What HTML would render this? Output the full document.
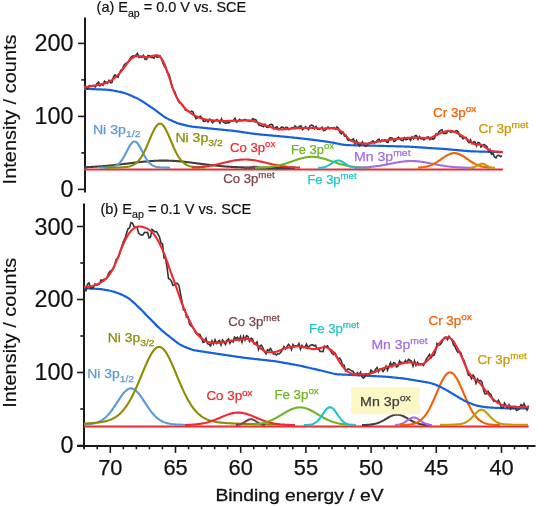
<!DOCTYPE html>
<html><head><meta charset="utf-8"><style>
html,body{margin:0;padding:0;background:#fff;width:550px;height:506px;overflow:hidden}
svg{display:block}
text{font-family:"Liberation Sans",sans-serif}
svg{will-change:transform}
</style></head><body>
<svg width="550" height="506" viewBox="0 0 550 506">
<rect width="550" height="506" fill="#fff"/>
<line x1="85" y1="17.4" x2="85" y2="192.6" stroke="#1a1a1a" stroke-width="2"/>
<line x1="78" y1="189.40" x2="85" y2="189.40" stroke="#1a1a1a" stroke-width="1.6"/>
<line x1="81.3" y1="152.90" x2="85" y2="152.90" stroke="#1a1a1a" stroke-width="1.6"/>
<line x1="78" y1="116.40" x2="85" y2="116.40" stroke="#1a1a1a" stroke-width="1.6"/>
<line x1="81.3" y1="79.90" x2="85" y2="79.90" stroke="#1a1a1a" stroke-width="1.6"/>
<line x1="78" y1="43.40" x2="85" y2="43.40" stroke="#1a1a1a" stroke-width="1.6"/>
<line x1="84" y1="203.5" x2="84" y2="448.6" stroke="#1a1a1a" stroke-width="2"/>
<line x1="77" y1="445.50" x2="84" y2="445.50" stroke="#1a1a1a" stroke-width="1.6"/>
<line x1="80.3" y1="409.00" x2="84" y2="409.00" stroke="#1a1a1a" stroke-width="1.6"/>
<line x1="77" y1="372.50" x2="84" y2="372.50" stroke="#1a1a1a" stroke-width="1.6"/>
<line x1="80.3" y1="336.00" x2="84" y2="336.00" stroke="#1a1a1a" stroke-width="1.6"/>
<line x1="77" y1="299.50" x2="84" y2="299.50" stroke="#1a1a1a" stroke-width="1.6"/>
<line x1="80.3" y1="263.00" x2="84" y2="263.00" stroke="#1a1a1a" stroke-width="1.6"/>
<line x1="77" y1="226.50" x2="84" y2="226.50" stroke="#1a1a1a" stroke-width="1.6"/>
<line x1="77" y1="446" x2="535.5" y2="446" stroke="#1a1a1a" stroke-width="1.9"/>
<line x1="527.58" y1="446" x2="527.58" y2="449.3" stroke="#1a1a1a" stroke-width="1.6"/>
<line x1="514.54" y1="446" x2="514.54" y2="449.3" stroke="#1a1a1a" stroke-width="1.6"/>
<line x1="501.50" y1="446" x2="501.50" y2="452.9" stroke="#1a1a1a" stroke-width="1.6"/>
<line x1="488.46" y1="446" x2="488.46" y2="449.3" stroke="#1a1a1a" stroke-width="1.6"/>
<line x1="475.42" y1="446" x2="475.42" y2="449.3" stroke="#1a1a1a" stroke-width="1.6"/>
<line x1="462.38" y1="446" x2="462.38" y2="449.3" stroke="#1a1a1a" stroke-width="1.6"/>
<line x1="449.34" y1="446" x2="449.34" y2="449.3" stroke="#1a1a1a" stroke-width="1.6"/>
<line x1="436.30" y1="446" x2="436.30" y2="452.9" stroke="#1a1a1a" stroke-width="1.6"/>
<line x1="423.26" y1="446" x2="423.26" y2="449.3" stroke="#1a1a1a" stroke-width="1.6"/>
<line x1="410.22" y1="446" x2="410.22" y2="449.3" stroke="#1a1a1a" stroke-width="1.6"/>
<line x1="397.18" y1="446" x2="397.18" y2="449.3" stroke="#1a1a1a" stroke-width="1.6"/>
<line x1="384.14" y1="446" x2="384.14" y2="449.3" stroke="#1a1a1a" stroke-width="1.6"/>
<line x1="371.10" y1="446" x2="371.10" y2="452.9" stroke="#1a1a1a" stroke-width="1.6"/>
<line x1="358.06" y1="446" x2="358.06" y2="449.3" stroke="#1a1a1a" stroke-width="1.6"/>
<line x1="345.02" y1="446" x2="345.02" y2="449.3" stroke="#1a1a1a" stroke-width="1.6"/>
<line x1="331.98" y1="446" x2="331.98" y2="449.3" stroke="#1a1a1a" stroke-width="1.6"/>
<line x1="318.94" y1="446" x2="318.94" y2="449.3" stroke="#1a1a1a" stroke-width="1.6"/>
<line x1="305.90" y1="446" x2="305.90" y2="452.9" stroke="#1a1a1a" stroke-width="1.6"/>
<line x1="292.86" y1="446" x2="292.86" y2="449.3" stroke="#1a1a1a" stroke-width="1.6"/>
<line x1="279.82" y1="446" x2="279.82" y2="449.3" stroke="#1a1a1a" stroke-width="1.6"/>
<line x1="266.78" y1="446" x2="266.78" y2="449.3" stroke="#1a1a1a" stroke-width="1.6"/>
<line x1="253.74" y1="446" x2="253.74" y2="449.3" stroke="#1a1a1a" stroke-width="1.6"/>
<line x1="240.70" y1="446" x2="240.70" y2="452.9" stroke="#1a1a1a" stroke-width="1.6"/>
<line x1="227.66" y1="446" x2="227.66" y2="449.3" stroke="#1a1a1a" stroke-width="1.6"/>
<line x1="214.62" y1="446" x2="214.62" y2="449.3" stroke="#1a1a1a" stroke-width="1.6"/>
<line x1="201.58" y1="446" x2="201.58" y2="449.3" stroke="#1a1a1a" stroke-width="1.6"/>
<line x1="188.54" y1="446" x2="188.54" y2="449.3" stroke="#1a1a1a" stroke-width="1.6"/>
<line x1="175.50" y1="446" x2="175.50" y2="452.9" stroke="#1a1a1a" stroke-width="1.6"/>
<line x1="162.46" y1="446" x2="162.46" y2="449.3" stroke="#1a1a1a" stroke-width="1.6"/>
<line x1="149.42" y1="446" x2="149.42" y2="449.3" stroke="#1a1a1a" stroke-width="1.6"/>
<line x1="136.38" y1="446" x2="136.38" y2="449.3" stroke="#1a1a1a" stroke-width="1.6"/>
<line x1="123.34" y1="446" x2="123.34" y2="449.3" stroke="#1a1a1a" stroke-width="1.6"/>
<line x1="110.30" y1="446" x2="110.30" y2="452.9" stroke="#1a1a1a" stroke-width="1.6"/>
<line x1="97.26" y1="446" x2="97.26" y2="449.3" stroke="#1a1a1a" stroke-width="1.6"/>
<line x1="84.22" y1="446" x2="84.22" y2="449.3" stroke="#1a1a1a" stroke-width="1.6"/>
<line x1="84" y1="169.5" x2="502.9" y2="169.5" stroke="#ee2b30" stroke-width="2"/>
<path d="M84.00,167.28 L85.00,167.24 L86.00,167.20 L87.00,167.16 L88.00,167.11 L89.00,167.07 L90.00,167.02 L91.00,166.97 L92.00,166.91 L93.00,166.86 L94.00,166.80 L95.00,166.74 L96.00,166.67 L97.00,166.61 L98.00,166.54 L99.00,166.47 L100.00,166.40 L101.00,166.32 L102.00,166.24 L103.00,166.16 L104.00,166.08 L105.00,165.99 L106.00,165.91 L107.00,165.82 L108.00,165.72 L109.00,165.63 L110.00,165.53 L111.00,165.43 L112.00,165.33 L113.00,165.22 L114.00,165.12 L115.00,165.01 L116.00,164.90 L117.00,164.79 L118.00,164.67 L119.00,164.56 L120.00,164.44 L121.00,164.32 L122.00,164.20 L123.00,164.08 L124.00,163.96 L125.00,163.84 L126.00,163.72 L127.00,163.60 L128.00,163.47 L129.00,163.35 L130.00,163.23 L131.00,163.10 L132.00,162.98 L133.00,162.86 L134.00,162.74 L135.00,162.62 L136.00,162.51 L137.00,162.39 L138.00,162.28 L139.00,162.16 L140.00,162.05 L141.00,161.95 L142.00,161.84 L143.00,161.74 L144.00,161.64 L145.00,161.55 L146.00,161.46 L147.00,161.37 L148.00,161.29 L149.00,161.21 L150.00,161.13 L151.00,161.06 L152.00,160.99 L153.00,160.93 L154.00,160.88 L155.00,160.82 L156.00,160.78 L157.00,160.74 L158.00,160.70 L159.00,160.67 L160.00,160.64 L161.00,160.63 L162.00,160.61 L163.00,160.60 L164.00,160.60 L165.00,160.60 L166.00,160.61 L167.00,160.63 L168.00,160.65 L169.00,160.68 L170.00,160.71 L171.00,160.75 L172.00,160.80 L173.00,160.85 L174.00,160.91 L175.00,160.97 L176.00,161.04 L177.00,161.11 L178.00,161.19 L179.00,161.28 L180.00,161.37 L181.00,161.46 L182.00,161.55 L183.00,161.66 L184.00,161.76 L185.00,161.87 L186.00,161.98 L187.00,162.09 L188.00,162.21 L189.00,162.33 L190.00,162.45 L191.00,162.57 L192.00,162.70 L193.00,162.83 L194.00,162.95 L195.00,163.08 L196.00,163.21 L197.00,163.34 L198.00,163.47 L199.00,163.60 L200.00,163.73 L201.00,163.86 L202.00,163.99 L203.00,164.12 L204.00,164.25 L205.00,164.37 L206.00,164.50 L207.00,164.62 L208.00,164.74 L209.00,164.86 L210.00,164.98 L211.00,165.09 L212.00,165.21 L213.00,165.32 L214.00,165.42 L215.00,165.53 L216.00,165.63 L217.00,165.73 L218.00,165.83 L219.00,165.93 L220.00,166.02 L221.00,166.11 L222.00,166.20 L223.00,166.28 L224.00,166.36 L225.00,166.44 L226.00,166.52 L227.00,166.59 L228.00,166.66 L229.00,166.73 L230.00,166.79 L231.00,166.85 L232.00,166.91 L233.00,166.97 L234.00,167.02 L235.00,167.08 L236.00,167.12 L237.00,167.17 L238.00,167.22 L239.00,167.26 L240.00,167.30 L241.00,167.34 L242.00,167.37 L243.00,167.41 L244.00,167.44 L245.00,167.47 L246.00,167.50 L247.00,167.53 L248.00,167.55 L249.00,167.58 L250.00,167.60 L251.00,167.62 L252.00,167.64 L253.00,167.66 L254.00,167.68 L255.00,167.70 L256.00,167.71 L257.00,167.73 L258.00,167.74 L259.00,167.75 L260.00,167.76 L261.00,167.78 L262.00,167.79 L263.00,167.79 L264.00,167.80 L265.00,167.81 L266.00,167.82 L267.00,167.83 L268.00,167.83 L269.00,167.84 L270.00,167.84 L271.00,167.85 L272.00,167.85 L273.00,167.86 L274.00,167.86 L275.00,167.86 L276.00,167.87 L277.00,167.87 L278.00,167.87 L279.00,167.88 L280.00,167.88 L281.00,167.88 L282.00,167.88 L283.00,167.88 L284.00,167.89 L285.00,167.89 L286.00,167.89 L287.00,167.89 L288.00,167.89 L289.00,167.89 L290.00,167.89 L291.00,167.89 L292.00,167.89 L293.00,167.89 L294.00,167.90 L295.00,167.90" fill="none" stroke="#404040" stroke-width="2.1"/>
<path d="M100.00,167.68 L101.00,167.66 L102.00,167.65 L103.00,167.63 L104.00,167.61 L105.00,167.58 L106.00,167.55 L107.00,167.50 L108.00,167.45 L109.00,167.37 L110.00,167.28 L111.00,167.15 L112.00,166.98 L113.00,166.76 L114.00,166.47 L115.00,166.10 L116.00,165.64 L117.00,165.05 L118.00,164.34 L119.00,163.47 L120.00,162.44 L121.00,161.24 L122.00,159.87 L123.00,158.32 L124.00,156.63 L125.00,154.80 L126.00,152.89 L127.00,150.93 L128.00,148.98 L129.00,147.12 L130.00,145.40 L131.00,143.91 L132.00,142.72 L133.00,141.88 L134.00,141.45 L135.00,141.45 L136.00,141.88 L137.00,142.72 L138.00,143.91 L139.00,145.40 L140.00,147.12 L141.00,148.98 L142.00,150.93 L143.00,152.89 L144.00,154.80 L145.00,156.63 L146.00,158.32 L147.00,159.87 L148.00,161.24 L149.00,162.44 L150.00,163.47 L151.00,164.34 L152.00,165.05 L153.00,165.64 L154.00,166.10 L155.00,166.47 L156.00,166.76 L157.00,166.98 L158.00,167.15 L159.00,167.28 L160.00,167.37 L161.00,167.45 L162.00,167.50 L163.00,167.55 L164.00,167.58 L165.00,167.61 L166.00,167.63 L167.00,167.65 L168.00,167.66 L169.00,167.68 L170.00,167.69" fill="none" stroke="#5b9bd5" stroke-width="2.1"/>
<path d="M105.00,167.67 L106.00,167.66 L107.00,167.65 L108.00,167.64 L109.00,167.63 L110.00,167.62 L111.00,167.61 L112.00,167.60 L113.00,167.58 L114.00,167.57 L115.00,167.55 L116.00,167.53 L117.00,167.51 L118.00,167.49 L119.00,167.46 L120.00,167.43 L121.00,167.39 L122.00,167.34 L123.00,167.28 L124.00,167.20 L125.00,167.11 L126.00,167.00 L127.00,166.87 L128.00,166.70 L129.00,166.49 L130.00,166.24 L131.00,165.93 L132.00,165.56 L133.00,165.11 L134.00,164.58 L135.00,163.95 L136.00,163.21 L137.00,162.35 L138.00,161.36 L139.00,160.23 L140.00,158.96 L141.00,157.52 L142.00,155.94 L143.00,154.19 L144.00,152.30 L145.00,150.27 L146.00,148.12 L147.00,145.86 L148.00,143.53 L149.00,141.14 L150.00,138.75 L151.00,136.38 L152.00,134.09 L153.00,131.91 L154.00,129.89 L155.00,128.09 L156.00,126.54 L157.00,125.28 L158.00,124.36 L159.00,123.79 L160.00,123.60 L161.00,123.79 L162.00,124.36 L163.00,125.28 L164.00,126.54 L165.00,128.09 L166.00,129.89 L167.00,131.91 L168.00,134.09 L169.00,136.38 L170.00,138.75 L171.00,141.14 L172.00,143.53 L173.00,145.86 L174.00,148.12 L175.00,150.27 L176.00,152.30 L177.00,154.19 L178.00,155.94 L179.00,157.52 L180.00,158.96 L181.00,160.23 L182.00,161.36 L183.00,162.35 L184.00,163.21 L185.00,163.95 L186.00,164.58 L187.00,165.11 L188.00,165.56 L189.00,165.93 L190.00,166.24 L191.00,166.49 L192.00,166.70 L193.00,166.87 L194.00,167.00 L195.00,167.11 L196.00,167.20 L197.00,167.28 L198.00,167.34 L199.00,167.39 L200.00,167.43 L201.00,167.46 L202.00,167.49 L203.00,167.51 L204.00,167.53 L205.00,167.55" fill="none" stroke="#8c8c00" stroke-width="2.1"/>
<path d="M192.00,167.55 L193.00,167.51 L194.00,167.46 L195.00,167.41 L196.00,167.35 L197.00,167.28 L198.00,167.21 L199.00,167.14 L200.00,167.05 L201.00,166.96 L202.00,166.87 L203.00,166.76 L204.00,166.65 L205.00,166.53 L206.00,166.40 L207.00,166.27 L208.00,166.12 L209.00,165.97 L210.00,165.81 L211.00,165.64 L212.00,165.46 L213.00,165.27 L214.00,165.07 L215.00,164.87 L216.00,164.66 L217.00,164.45 L218.00,164.22 L219.00,164.00 L220.00,163.76 L221.00,163.53 L222.00,163.29 L223.00,163.05 L224.00,162.81 L225.00,162.56 L226.00,162.32 L227.00,162.08 L228.00,161.85 L229.00,161.62 L230.00,161.39 L231.00,161.17 L232.00,160.96 L233.00,160.77 L234.00,160.58 L235.00,160.40 L236.00,160.24 L237.00,160.09 L238.00,159.95 L239.00,159.84 L240.00,159.73 L241.00,159.65 L242.00,159.59 L243.00,159.54 L244.00,159.51 L245.00,159.50 L246.00,159.51 L247.00,159.54 L248.00,159.59 L249.00,159.65 L250.00,159.73 L251.00,159.84 L252.00,159.95 L253.00,160.09 L254.00,160.24 L255.00,160.40 L256.00,160.58 L257.00,160.77 L258.00,160.96 L259.00,161.17 L260.00,161.39 L261.00,161.62 L262.00,161.85 L263.00,162.08 L264.00,162.32 L265.00,162.56 L266.00,162.81 L267.00,163.05 L268.00,163.29 L269.00,163.53 L270.00,163.76 L271.00,164.00 L272.00,164.22 L273.00,164.45 L274.00,164.66 L275.00,164.87 L276.00,165.07 L277.00,165.27 L278.00,165.46 L279.00,165.64 L280.00,165.81 L281.00,165.97 L282.00,166.12 L283.00,166.27 L284.00,166.40 L285.00,166.53 L286.00,166.65 L287.00,166.76 L288.00,166.87 L289.00,166.96 L290.00,167.05 L291.00,167.14 L292.00,167.21 L293.00,167.28 L294.00,167.35 L295.00,167.41 L296.00,167.46 L297.00,167.51 L298.00,167.55 L299.00,167.59 L300.00,167.63" fill="none" stroke="#ee2b30" stroke-width="2.1"/>
<path d="M244.00,167.89 L245.00,167.87 L246.00,167.84 L247.00,167.79 L248.00,167.70 L249.00,167.58 L250.00,167.42 L251.00,167.23 L252.00,167.05 L253.00,166.90 L254.00,166.81 L255.00,166.81 L256.00,166.90 L257.00,167.05 L258.00,167.23 L259.00,167.42 L260.00,167.58 L261.00,167.70 L262.00,167.79 L263.00,167.84 L264.00,167.87 L265.00,167.89" fill="none" stroke="#7a4545" stroke-width="2.1"/>
<path d="M255.00,167.76 L256.00,167.74 L257.00,167.71 L258.00,167.68 L259.00,167.64 L260.00,167.61 L261.00,167.56 L262.00,167.51 L263.00,167.46 L264.00,167.40 L265.00,167.33 L266.00,167.25 L267.00,167.17 L268.00,167.07 L269.00,166.97 L270.00,166.86 L271.00,166.74 L272.00,166.60 L273.00,166.46 L274.00,166.30 L275.00,166.13 L276.00,165.95 L277.00,165.76 L278.00,165.55 L279.00,165.33 L280.00,165.09 L281.00,164.84 L282.00,164.58 L283.00,164.31 L284.00,164.02 L285.00,163.73 L286.00,163.42 L287.00,163.10 L288.00,162.78 L289.00,162.44 L290.00,162.10 L291.00,161.76 L292.00,161.41 L293.00,161.06 L294.00,160.71 L295.00,160.37 L296.00,160.03 L297.00,159.69 L298.00,159.37 L299.00,159.05 L300.00,158.75 L301.00,158.46 L302.00,158.19 L303.00,157.94 L304.00,157.71 L305.00,157.51 L306.00,157.32 L307.00,157.17 L308.00,157.04 L309.00,156.93 L310.00,156.86 L311.00,156.81 L312.00,156.80 L313.00,156.81 L314.00,156.86 L315.00,156.93 L316.00,157.04 L317.00,157.17 L318.00,157.32 L319.00,157.51 L320.00,157.71 L321.00,157.94 L322.00,158.19 L323.00,158.46 L324.00,158.75 L325.00,159.05 L326.00,159.37 L327.00,159.69 L328.00,160.03 L329.00,160.37 L330.00,160.71 L331.00,161.06 L332.00,161.41 L333.00,161.76 L334.00,162.10 L335.00,162.44 L336.00,162.78 L337.00,163.10 L338.00,163.42 L339.00,163.73 L340.00,164.02 L341.00,164.31 L342.00,164.58 L343.00,164.84 L344.00,165.09 L345.00,165.33 L346.00,165.55 L347.00,165.76 L348.00,165.95 L349.00,166.13 L350.00,166.30 L351.00,166.46 L352.00,166.60 L353.00,166.74 L354.00,166.86 L355.00,166.97 L356.00,167.07 L357.00,167.17 L358.00,167.25 L359.00,167.33 L360.00,167.40 L361.00,167.46 L362.00,167.51 L363.00,167.56 L364.00,167.61 L365.00,167.64 L366.00,167.68 L367.00,167.71 L368.00,167.74 L369.00,167.76 L370.00,167.78" fill="none" stroke="#6db524" stroke-width="2.1"/>
<path d="M318.00,167.83 L319.00,167.79 L320.00,167.73 L321.00,167.65 L322.00,167.54 L323.00,167.38 L324.00,167.17 L325.00,166.90 L326.00,166.56 L327.00,166.15 L328.00,165.66 L329.00,165.10 L330.00,164.48 L331.00,163.82 L332.00,163.14 L333.00,162.47 L334.00,161.86 L335.00,161.32 L336.00,160.90 L337.00,160.62 L338.00,160.50 L339.00,160.55 L340.00,160.77 L341.00,161.14 L342.00,161.63 L343.00,162.22 L344.00,162.87 L345.00,163.55 L346.00,164.22 L347.00,164.86 L348.00,165.44 L349.00,165.96 L350.00,166.40 L351.00,166.77 L352.00,167.07 L353.00,167.30 L354.00,167.48 L355.00,167.61 L356.00,167.71 L357.00,167.77 L358.00,167.82" fill="none" stroke="#1ec4cc" stroke-width="2.1"/>
<path d="M355.00,167.73 L356.00,167.70 L357.00,167.67 L358.00,167.64 L359.00,167.61 L360.00,167.57 L361.00,167.53 L362.00,167.49 L363.00,167.44 L364.00,167.39 L365.00,167.33 L366.00,167.26 L367.00,167.19 L368.00,167.12 L369.00,167.04 L370.00,166.95 L371.00,166.85 L372.00,166.75 L373.00,166.64 L374.00,166.53 L375.00,166.41 L376.00,166.28 L377.00,166.14 L378.00,166.00 L379.00,165.85 L380.00,165.69 L381.00,165.53 L382.00,165.36 L383.00,165.18 L384.00,165.00 L385.00,164.82 L386.00,164.63 L387.00,164.43 L388.00,164.24 L389.00,164.04 L390.00,163.84 L391.00,163.63 L392.00,163.43 L393.00,163.23 L394.00,163.04 L395.00,162.84 L396.00,162.65 L397.00,162.47 L398.00,162.29 L399.00,162.12 L400.00,161.96 L401.00,161.81 L402.00,161.67 L403.00,161.54 L404.00,161.42 L405.00,161.32 L406.00,161.23 L407.00,161.15 L408.00,161.09 L409.00,161.05 L410.00,161.02 L411.00,161.00 L412.00,161.00 L413.00,161.02 L414.00,161.05 L415.00,161.10 L416.00,161.17 L417.00,161.25 L418.00,161.34 L419.00,161.45 L420.00,161.57 L421.00,161.70 L422.00,161.84 L423.00,161.99 L424.00,162.16 L425.00,162.33 L426.00,162.51 L427.00,162.69 L428.00,162.88 L429.00,163.08 L430.00,163.27 L431.00,163.47 L432.00,163.67 L433.00,163.88 L434.00,164.08 L435.00,164.28 L436.00,164.47 L437.00,164.66 L438.00,164.85 L439.00,165.04 L440.00,165.22 L441.00,165.39 L442.00,165.56 L443.00,165.72 L444.00,165.88 L445.00,166.03 L446.00,166.17 L447.00,166.31 L448.00,166.43 L449.00,166.55 L450.00,166.67 L451.00,166.77 L452.00,166.87 L453.00,166.97 L454.00,167.05 L455.00,167.13 L456.00,167.21 L457.00,167.28 L458.00,167.34 L459.00,167.40 L460.00,167.45 L461.00,167.50 L462.00,167.54 L463.00,167.58 L464.00,167.62 L465.00,167.65 L466.00,167.68 L467.00,167.71 L468.00,167.73 L469.00,167.75 L470.00,167.77 L471.00,167.79 L472.00,167.80 L473.00,167.81 L474.00,167.83 L475.00,167.84" fill="none" stroke="#a56de0" stroke-width="2.1"/>
<path d="M418.00,167.64 L419.00,167.58 L420.00,167.50 L421.00,167.41 L422.00,167.30 L423.00,167.17 L424.00,167.02 L425.00,166.84 L426.00,166.64 L427.00,166.40 L428.00,166.14 L429.00,165.83 L430.00,165.49 L431.00,165.12 L432.00,164.70 L433.00,164.24 L434.00,163.74 L435.00,163.21 L436.00,162.63 L437.00,162.03 L438.00,161.39 L439.00,160.72 L440.00,160.04 L441.00,159.34 L442.00,158.64 L443.00,157.95 L444.00,157.26 L445.00,156.60 L446.00,155.97 L447.00,155.38 L448.00,154.84 L449.00,154.36 L450.00,153.95 L451.00,153.61 L452.00,153.36 L453.00,153.19 L454.00,153.11 L455.00,153.12 L456.00,153.22 L457.00,153.40 L458.00,153.67 L459.00,154.03 L460.00,154.45 L461.00,154.94 L462.00,155.49 L463.00,156.09 L464.00,156.73 L465.00,157.40 L466.00,158.08 L467.00,158.78 L468.00,159.48 L469.00,160.18 L470.00,160.86 L471.00,161.52 L472.00,162.15 L473.00,162.75 L474.00,163.32 L475.00,163.85 L476.00,164.34 L477.00,164.79 L478.00,165.20 L479.00,165.57 L480.00,165.90 L481.00,166.19 L482.00,166.45 L483.00,166.68 L484.00,166.88 L485.00,167.05 L486.00,167.20 L487.00,167.32 L488.00,167.43 L489.00,167.52 L490.00,167.59" fill="none" stroke="#f26000" stroke-width="2.1"/>
<path d="M470.00,167.82 L471.00,167.76 L472.00,167.65 L473.00,167.47 L474.00,167.22 L475.00,166.87 L476.00,166.41 L477.00,165.88 L478.00,165.29 L479.00,164.72 L480.00,164.22 L481.00,163.86 L482.00,163.70 L483.00,163.77 L484.00,164.05 L485.00,164.50 L486.00,165.06 L487.00,165.65 L488.00,166.21 L489.00,166.70 L490.00,167.09 L491.00,167.38 L492.00,167.59 L493.00,167.72 L494.00,167.80 L495.00,167.85" fill="none" stroke="#c99a00" stroke-width="2.1"/>
<line x1="84" y1="426.5" x2="528.7" y2="426.5" stroke="#ee2b30" stroke-width="2"/>
<path d="M84.00,424.55 L85.00,424.50 L86.00,424.44 L87.00,424.37 L88.00,424.28 L89.00,424.18 L90.00,424.07 L91.00,423.93 L92.00,423.77 L93.00,423.58 L94.00,423.37 L95.00,423.12 L96.00,422.83 L97.00,422.51 L98.00,422.13 L99.00,421.71 L100.00,421.23 L101.00,420.68 L102.00,420.08 L103.00,419.41 L104.00,418.66 L105.00,417.85 L106.00,416.95 L107.00,415.98 L108.00,414.93 L109.00,413.81 L110.00,412.61 L111.00,411.34 L112.00,410.00 L113.00,408.61 L114.00,407.16 L115.00,405.68 L116.00,404.16 L117.00,402.63 L118.00,401.09 L119.00,399.57 L120.00,398.07 L121.00,396.62 L122.00,395.23 L123.00,393.93 L124.00,392.73 L125.00,391.64 L126.00,390.69 L127.00,389.88 L128.00,389.24 L129.00,388.78 L130.00,388.49 L131.00,388.40 L132.00,388.49 L133.00,388.78 L134.00,389.24 L135.00,389.88 L136.00,390.69 L137.00,391.64 L138.00,392.73 L139.00,393.93 L140.00,395.23 L141.00,396.62 L142.00,398.07 L143.00,399.57 L144.00,401.09 L145.00,402.63 L146.00,404.16 L147.00,405.68 L148.00,407.16 L149.00,408.61 L150.00,410.00 L151.00,411.34 L152.00,412.61 L153.00,413.81 L154.00,414.93 L155.00,415.98 L156.00,416.95 L157.00,417.85 L158.00,418.66 L159.00,419.41 L160.00,420.08 L161.00,420.68 L162.00,421.23 L163.00,421.71 L164.00,422.13 L165.00,422.51 L166.00,422.83 L167.00,423.12 L168.00,423.37 L169.00,423.58 L170.00,423.77 L171.00,423.93 L172.00,424.07 L173.00,424.18 L174.00,424.28 L175.00,424.37 L176.00,424.44 L177.00,424.50 L178.00,424.55 L179.00,424.59 L180.00,424.63 L181.00,424.66 L182.00,424.69 L183.00,424.72 L184.00,424.74 L185.00,424.76" fill="none" stroke="#5b9bd5" stroke-width="2.1"/>
<path d="M84.00,423.52 L85.00,423.47 L86.00,423.43 L87.00,423.38 L88.00,423.33 L89.00,423.27 L90.00,423.21 L91.00,423.15 L92.00,423.08 L93.00,423.01 L94.00,422.93 L95.00,422.84 L96.00,422.75 L97.00,422.65 L98.00,422.53 L99.00,422.41 L100.00,422.28 L101.00,422.13 L102.00,421.96 L103.00,421.78 L104.00,421.58 L105.00,421.36 L106.00,421.12 L107.00,420.85 L108.00,420.55 L109.00,420.22 L110.00,419.86 L111.00,419.46 L112.00,419.02 L113.00,418.54 L114.00,418.00 L115.00,417.42 L116.00,416.78 L117.00,416.09 L118.00,415.33 L119.00,414.50 L120.00,413.61 L121.00,412.64 L122.00,411.60 L123.00,410.48 L124.00,409.27 L125.00,407.98 L126.00,406.61 L127.00,405.15 L128.00,403.60 L129.00,401.96 L130.00,400.23 L131.00,398.42 L132.00,396.52 L133.00,394.55 L134.00,392.49 L135.00,390.37 L136.00,388.17 L137.00,385.92 L138.00,383.62 L139.00,381.27 L140.00,378.89 L141.00,376.49 L142.00,374.08 L143.00,371.67 L144.00,369.28 L145.00,366.92 L146.00,364.61 L147.00,362.37 L148.00,360.21 L149.00,358.15 L150.00,356.21 L151.00,354.41 L152.00,352.76 L153.00,351.29 L154.00,350.00 L155.00,348.93 L156.00,348.07 L157.00,347.44 L158.00,347.05 L159.00,346.90 L160.00,347.00 L161.00,347.34 L162.00,347.92 L163.00,348.74 L164.00,349.77 L165.00,351.02 L166.00,352.45 L167.00,354.07 L168.00,355.84 L169.00,357.75 L170.00,359.79 L171.00,361.93 L172.00,364.16 L173.00,366.46 L174.00,368.80 L175.00,371.19 L176.00,373.59 L177.00,376.01 L178.00,378.41 L179.00,380.79 L180.00,383.15 L181.00,385.46 L182.00,387.73 L183.00,389.93 L184.00,392.07 L185.00,394.14 L186.00,396.14 L187.00,398.05 L188.00,399.88 L189.00,401.62 L190.00,403.28 L191.00,404.84 L192.00,406.32 L193.00,407.72 L194.00,409.02 L195.00,410.24 L196.00,411.38 L197.00,412.44 L198.00,413.42 L199.00,414.33 L200.00,415.17 L201.00,415.94 L202.00,416.65 L203.00,417.30 L204.00,417.89 L205.00,418.43 L206.00,418.93 L207.00,419.38 L208.00,419.78 L209.00,420.15 L210.00,420.49 L211.00,420.79 L212.00,421.07 L213.00,421.32 L214.00,421.54 L215.00,421.74 L216.00,421.93 L217.00,422.10 L218.00,422.25 L219.00,422.38 L220.00,422.51 L221.00,422.62 L222.00,422.73 L223.00,422.82 L224.00,422.91 L225.00,422.99 L226.00,423.07 L227.00,423.14 L228.00,423.20 L229.00,423.26 L230.00,423.32 L231.00,423.37 L232.00,423.42 L233.00,423.46 L234.00,423.51 L235.00,423.55 L236.00,423.59 L237.00,423.63 L238.00,423.66 L239.00,423.70 L240.00,423.73 L241.00,423.76 L242.00,423.80 L243.00,423.83 L244.00,423.85 L245.00,423.88 L246.00,423.91 L247.00,423.93 L248.00,423.96 L249.00,423.98 L250.00,424.01 L251.00,424.03 L252.00,424.05 L253.00,424.07 L254.00,424.09 L255.00,424.11 L256.00,424.13 L257.00,424.15 L258.00,424.17 L259.00,424.19 L260.00,424.20 L261.00,424.22 L262.00,424.24 L263.00,424.25 L264.00,424.27 L265.00,424.28 L266.00,424.30 L267.00,424.31 L268.00,424.32 L269.00,424.34 L270.00,424.35 L271.00,424.36 L272.00,424.38 L273.00,424.39 L274.00,424.40 L275.00,424.41 L276.00,424.42 L277.00,424.43 L278.00,424.45 L279.00,424.46 L280.00,424.47" fill="none" stroke="#8c8c00" stroke-width="2.1"/>
<path d="M185.00,424.96 L186.00,424.94 L187.00,424.91 L188.00,424.88 L189.00,424.84 L190.00,424.79 L191.00,424.74 L192.00,424.69 L193.00,424.62 L194.00,424.55 L195.00,424.46 L196.00,424.37 L197.00,424.27 L198.00,424.15 L199.00,424.02 L200.00,423.88 L201.00,423.73 L202.00,423.56 L203.00,423.37 L204.00,423.17 L205.00,422.95 L206.00,422.71 L207.00,422.46 L208.00,422.18 L209.00,421.89 L210.00,421.59 L211.00,421.26 L212.00,420.92 L213.00,420.56 L214.00,420.19 L215.00,419.81 L216.00,419.41 L217.00,419.00 L218.00,418.58 L219.00,418.16 L220.00,417.73 L221.00,417.30 L222.00,416.88 L223.00,416.45 L224.00,416.04 L225.00,415.63 L226.00,415.24 L227.00,414.87 L228.00,414.51 L229.00,414.18 L230.00,413.87 L231.00,413.59 L232.00,413.34 L233.00,413.13 L234.00,412.95 L235.00,412.80 L236.00,412.70 L237.00,412.63 L238.00,412.60 L239.00,412.61 L240.00,412.66 L241.00,412.76 L242.00,412.88 L243.00,413.05 L244.00,413.25 L245.00,413.49 L246.00,413.76 L247.00,414.05 L248.00,414.38 L249.00,414.72 L250.00,415.09 L251.00,415.48 L252.00,415.88 L253.00,416.29 L254.00,416.71 L255.00,417.13 L256.00,417.56 L257.00,417.99 L258.00,418.41 L259.00,418.83 L260.00,419.25 L261.00,419.65 L262.00,420.04 L263.00,420.42 L264.00,420.78 L265.00,421.13 L266.00,421.46 L267.00,421.77 L268.00,422.07 L269.00,422.35 L270.00,422.61 L271.00,422.85 L272.00,423.08 L273.00,423.29 L274.00,423.48 L275.00,423.66 L276.00,423.82 L277.00,423.97 L278.00,424.10 L279.00,424.22 L280.00,424.33 L281.00,424.43 L282.00,424.51 L283.00,424.59 L284.00,424.66 L285.00,424.72 L286.00,424.77 L287.00,424.82 L288.00,424.86 L289.00,424.90 L290.00,424.93 L291.00,424.95 L292.00,424.98 L293.00,425.00 L294.00,425.01 L295.00,425.03" fill="none" stroke="#ee2b30" stroke-width="2.1"/>
<path d="M236.00,424.97 L237.00,424.89 L238.00,424.76 L239.00,424.58 L240.00,424.33 L241.00,424.00 L242.00,423.58 L243.00,423.08 L244.00,422.49 L245.00,421.85 L246.00,421.19 L247.00,420.55 L248.00,419.99 L249.00,419.55 L250.00,419.28 L251.00,419.20 L252.00,419.32 L253.00,419.63 L254.00,420.10 L255.00,420.68 L256.00,421.32 L257.00,421.98 L258.00,422.61 L259.00,423.18 L260.00,423.67 L261.00,424.07 L262.00,424.39 L263.00,424.62 L264.00,424.79 L265.00,424.90" fill="none" stroke="#7a4545" stroke-width="2.1"/>
<path d="M255.00,424.38 L256.00,424.27 L257.00,424.14 L258.00,424.01 L259.00,423.85 L260.00,423.68 L261.00,423.49 L262.00,423.29 L263.00,423.06 L264.00,422.81 L265.00,422.54 L266.00,422.24 L267.00,421.93 L268.00,421.58 L269.00,421.22 L270.00,420.82 L271.00,420.41 L272.00,419.96 L273.00,419.50 L274.00,419.01 L275.00,418.50 L276.00,417.97 L277.00,417.42 L278.00,416.85 L279.00,416.27 L280.00,415.68 L281.00,415.09 L282.00,414.49 L283.00,413.88 L284.00,413.28 L285.00,412.69 L286.00,412.11 L287.00,411.54 L288.00,411.00 L289.00,410.48 L290.00,409.98 L291.00,409.52 L292.00,409.10 L293.00,408.72 L294.00,408.38 L295.00,408.08 L296.00,407.84 L297.00,407.65 L298.00,407.51 L299.00,407.43 L300.00,407.40 L301.00,407.43 L302.00,407.51 L303.00,407.65 L304.00,407.84 L305.00,408.08 L306.00,408.38 L307.00,408.72 L308.00,409.10 L309.00,409.52 L310.00,409.98 L311.00,410.48 L312.00,411.00 L313.00,411.54 L314.00,412.11 L315.00,412.69 L316.00,413.28 L317.00,413.88 L318.00,414.49 L319.00,415.09 L320.00,415.68 L321.00,416.27 L322.00,416.85 L323.00,417.42 L324.00,417.97 L325.00,418.50 L326.00,419.01 L327.00,419.50 L328.00,419.96 L329.00,420.41 L330.00,420.82 L331.00,421.22 L332.00,421.58 L333.00,421.93 L334.00,422.24 L335.00,422.54 L336.00,422.81 L337.00,423.06 L338.00,423.29 L339.00,423.49 L340.00,423.68 L341.00,423.85 L342.00,424.01 L343.00,424.14 L344.00,424.27 L345.00,424.38 L346.00,424.47 L347.00,424.56 L348.00,424.63 L349.00,424.70 L350.00,424.76 L351.00,424.81 L352.00,424.85 L353.00,424.89 L354.00,424.92 L355.00,424.95" fill="none" stroke="#6db524" stroke-width="2.1"/>
<path d="M304.00,425.07 L305.00,425.05 L306.00,425.02 L307.00,424.97 L308.00,424.91 L309.00,424.81 L310.00,424.68 L311.00,424.49 L312.00,424.24 L313.00,423.91 L314.00,423.48 L315.00,422.93 L316.00,422.25 L317.00,421.43 L318.00,420.46 L319.00,419.35 L320.00,418.10 L321.00,416.73 L322.00,415.28 L323.00,413.80 L324.00,412.33 L325.00,410.94 L326.00,409.70 L327.00,408.65 L328.00,407.86 L329.00,407.37 L330.00,407.20 L331.00,407.37 L332.00,407.86 L333.00,408.65 L334.00,409.70 L335.00,410.94 L336.00,412.33 L337.00,413.80 L338.00,415.28 L339.00,416.73 L340.00,418.10 L341.00,419.35 L342.00,420.46 L343.00,421.43 L344.00,422.25 L345.00,422.93 L346.00,423.48 L347.00,423.91 L348.00,424.24 L349.00,424.49 L350.00,424.68 L351.00,424.81 L352.00,424.91 L353.00,424.97 L354.00,425.02 L355.00,425.05 L356.00,425.07" fill="none" stroke="#1ec4cc" stroke-width="2.1"/>
<path d="M362.00,425.05 L363.00,425.03 L364.00,425.00 L365.00,424.97 L366.00,424.93 L367.00,424.88 L368.00,424.82 L369.00,424.74 L370.00,424.65 L371.00,424.53 L372.00,424.39 L373.00,424.23 L374.00,424.03 L375.00,423.81 L376.00,423.54 L377.00,423.24 L378.00,422.90 L379.00,422.52 L380.00,422.10 L381.00,421.64 L382.00,421.15 L383.00,420.62 L384.00,420.07 L385.00,419.49 L386.00,418.91 L387.00,418.32 L388.00,417.74 L389.00,417.17 L390.00,416.64 L391.00,416.15 L392.00,415.71 L393.00,415.33 L394.00,415.02 L395.00,414.80 L396.00,414.65 L397.00,414.60 L398.00,414.64 L399.00,414.76 L400.00,414.97 L401.00,415.26 L402.00,415.63 L403.00,416.06 L404.00,416.54 L405.00,417.06 L406.00,417.62 L407.00,418.20 L408.00,418.79 L409.00,419.38 L410.00,419.95 L411.00,420.51 L412.00,421.05 L413.00,421.55 L414.00,422.01 L415.00,422.44 L416.00,422.83 L417.00,423.18 L418.00,423.49 L419.00,423.76 L420.00,423.99 L421.00,424.19 L422.00,424.36 L423.00,424.51 L424.00,424.63 L425.00,424.73 L426.00,424.81 L427.00,424.87 L428.00,424.92 L429.00,424.97 L430.00,425.00 L431.00,425.02 L432.00,425.04" fill="none" stroke="#404040" stroke-width="2.1"/>
<path d="M395.00,424.98 L396.00,424.92 L397.00,424.83 L398.00,424.70 L399.00,424.53 L400.00,424.30 L401.00,424.01 L402.00,423.64 L403.00,423.19 L404.00,422.66 L405.00,422.06 L406.00,421.40 L407.00,420.70 L408.00,420.00 L409.00,419.31 L410.00,418.69 L411.00,418.17 L412.00,417.79 L413.00,417.56 L414.00,417.50 L415.00,417.63 L416.00,417.92 L417.00,418.37 L418.00,418.93 L419.00,419.58 L420.00,420.28 L421.00,420.98 L422.00,421.67 L423.00,422.31 L424.00,422.88 L425.00,423.38 L426.00,423.79 L427.00,424.13 L428.00,424.40 L429.00,424.61 L430.00,424.76 L431.00,424.87 L432.00,424.95" fill="none" stroke="#a56de0" stroke-width="2.1"/>
<path d="M400.00,425.05 L401.00,425.03 L402.00,425.01 L403.00,424.98 L404.00,424.95 L405.00,424.90 L406.00,424.85 L407.00,424.78 L408.00,424.69 L409.00,424.59 L410.00,424.46 L411.00,424.31 L412.00,424.12 L413.00,423.89 L414.00,423.62 L415.00,423.31 L416.00,422.93 L417.00,422.49 L418.00,421.98 L419.00,421.39 L420.00,420.71 L421.00,419.94 L422.00,419.06 L423.00,418.07 L424.00,416.97 L425.00,415.74 L426.00,414.39 L427.00,412.91 L428.00,411.30 L429.00,409.56 L430.00,407.70 L431.00,405.73 L432.00,403.65 L433.00,401.47 L434.00,399.22 L435.00,396.91 L436.00,394.56 L437.00,392.19 L438.00,389.83 L439.00,387.52 L440.00,385.26 L441.00,383.11 L442.00,381.08 L443.00,379.21 L444.00,377.51 L445.00,376.03 L446.00,374.78 L447.00,373.77 L448.00,373.03 L449.00,372.57 L450.00,372.40 L451.00,372.52 L452.00,372.92 L453.00,373.60 L454.00,374.55 L455.00,375.76 L456.00,377.20 L457.00,378.85 L458.00,380.69 L459.00,382.69 L460.00,384.83 L461.00,387.06 L462.00,389.37 L463.00,391.72 L464.00,394.08 L465.00,396.44 L466.00,398.76 L467.00,401.03 L468.00,403.22 L469.00,405.32 L470.00,407.32 L471.00,409.20 L472.00,410.96 L473.00,412.60 L474.00,414.10 L475.00,415.48 L476.00,416.73 L477.00,417.86 L478.00,418.87 L479.00,419.77 L480.00,420.56 L481.00,421.26 L482.00,421.87 L483.00,422.40 L484.00,422.85 L485.00,423.24 L486.00,423.56 L487.00,423.84 L488.00,424.08 L489.00,424.27 L490.00,424.43 L491.00,424.56 L492.00,424.67 L493.00,424.76 L494.00,424.83 L495.00,424.89 L496.00,424.94 L497.00,424.97 L498.00,425.00 L499.00,425.03 L500.00,425.04" fill="none" stroke="#f26000" stroke-width="2.1"/>
<path d="M440.00,424.87 L441.00,424.86 L442.00,424.85 L443.00,424.84 L444.00,424.83 L445.00,424.81 L446.00,424.80 L447.00,424.78 L448.00,424.76 L449.00,424.74 L450.00,424.72 L451.00,424.69 L452.00,424.66 L453.00,424.63 L454.00,424.59 L455.00,424.54 L456.00,424.48 L457.00,424.41 L458.00,424.32 L459.00,424.20 L460.00,424.06 L461.00,423.89 L462.00,423.67 L463.00,423.41 L464.00,423.08 L465.00,422.68 L466.00,422.20 L467.00,421.64 L468.00,420.99 L469.00,420.25 L470.00,419.41 L471.00,418.48 L472.00,417.48 L473.00,416.42 L474.00,415.33 L475.00,414.22 L476.00,413.14 L477.00,412.14 L478.00,411.24 L479.00,410.52 L480.00,410.00 L481.00,409.73 L482.00,409.73 L483.00,410.00 L484.00,410.52 L485.00,411.24 L486.00,412.14 L487.00,413.14 L488.00,414.22 L489.00,415.33 L490.00,416.42 L491.00,417.48 L492.00,418.48 L493.00,419.41 L494.00,420.25 L495.00,420.99 L496.00,421.64 L497.00,422.20 L498.00,422.68 L499.00,423.08 L500.00,423.41 L501.00,423.67 L502.00,423.89 L503.00,424.06 L504.00,424.20 L505.00,424.32 L506.00,424.41 L507.00,424.48 L508.00,424.54 L509.00,424.59 L510.00,424.63 L511.00,424.66 L512.00,424.69 L513.00,424.72 L514.00,424.74 L515.00,424.76 L516.00,424.78 L517.00,424.80 L518.00,424.81 L519.00,424.83 L520.00,424.84 L521.00,424.85 L522.00,424.86 L523.00,424.87 L524.00,424.88 L525.00,424.89 L526.00,424.90 L527.00,424.91 L528.00,424.92" fill="none" stroke="#c99a00" stroke-width="2.1"/>
<path d="M84.00,88.80 L85.00,88.84 L86.00,88.87 L87.00,88.91 L88.00,88.95 L89.00,88.99 L90.00,89.02 L91.00,89.06 L92.00,89.10 L93.00,89.14 L94.00,89.17 L95.00,89.21 L96.00,89.25 L97.00,89.28 L98.00,89.32 L99.00,89.36 L100.00,89.40 L101.00,89.44 L102.00,89.49 L103.00,89.53 L104.00,89.58 L105.00,89.64 L106.00,89.70 L107.00,89.77 L108.00,89.85 L109.00,89.95 L110.00,90.07 L111.00,90.21 L112.00,90.36 L113.00,90.53 L114.00,90.72 L115.00,90.91 L116.00,91.10 L117.00,91.30 L118.00,91.50 L119.00,91.71 L120.00,91.91 L121.00,92.13 L122.00,92.36 L123.00,92.61 L124.00,92.89 L125.00,93.19 L126.00,93.53 L127.00,93.91 L128.00,94.30 L129.00,94.72 L130.00,95.16 L131.00,95.60 L132.00,96.04 L133.00,96.49 L134.00,96.94 L135.00,97.40 L136.00,97.87 L137.00,98.35 L138.00,98.86 L139.00,99.38 L140.00,99.94 L141.00,100.53 L142.00,101.13 L143.00,101.76 L144.00,102.41 L145.00,103.06 L146.00,103.72 L147.00,104.38 L148.00,105.05 L149.00,105.72 L150.00,106.39 L151.00,107.07 L152.00,107.75 L153.00,108.45 L154.00,109.17 L155.00,109.89 L156.00,110.64 L157.00,111.39 L158.00,112.15 L159.00,112.92 L160.00,113.69 L161.00,114.44 L162.00,115.18 L163.00,115.90 L164.00,116.58 L165.00,117.22 L166.00,117.81 L167.00,118.37 L168.00,118.89 L169.00,119.39 L170.00,119.86 L171.00,120.33 L172.00,120.79 L173.00,121.24 L174.00,121.68 L175.00,122.10 L176.00,122.51 L177.00,122.89 L178.00,123.25 L179.00,123.58 L180.00,123.88 L181.00,124.16 L182.00,124.43 L183.00,124.68 L184.00,124.93 L185.00,125.17 L186.00,125.41 L187.00,125.64 L188.00,125.86 L189.00,126.07 L190.00,126.26 L191.00,126.43 L192.00,126.58 L193.00,126.72 L194.00,126.84 L195.00,126.96 L196.00,127.07 L197.00,127.17 L198.00,127.27 L199.00,127.38 L200.00,127.48 L201.00,127.58 L202.00,127.68 L203.00,127.78 L204.00,127.89 L205.00,127.99 L206.00,128.09 L207.00,128.19 L208.00,128.29 L209.00,128.40 L210.00,128.50 L211.00,128.60 L212.00,128.70 L213.00,128.80 L214.00,128.91 L215.00,129.01 L216.00,129.11 L217.00,129.21 L218.00,129.31 L219.00,129.41 L220.00,129.51 L221.00,129.61 L222.00,129.71 L223.00,129.81 L224.00,129.91 L225.00,130.01 L226.00,130.10 L227.00,130.20 L228.00,130.30 L229.00,130.40 L230.00,130.51 L231.00,130.61 L232.00,130.71 L233.00,130.82 L234.00,130.94 L235.00,131.06 L236.00,131.19 L237.00,131.32 L238.00,131.46 L239.00,131.61 L240.00,131.75 L241.00,131.90 L242.00,132.05 L243.00,132.20 L244.00,132.35 L245.00,132.50 L246.00,132.65 L247.00,132.80 L248.00,132.95 L249.00,133.10 L250.00,133.25 L251.00,133.39 L252.00,133.54 L253.00,133.67 L254.00,133.81 L255.00,133.93 L256.00,134.05 L257.00,134.16 L258.00,134.26 L259.00,134.36 L260.00,134.46 L261.00,134.55 L262.00,134.64 L263.00,134.74 L264.00,134.83 L265.00,134.92 L266.00,135.01 L267.00,135.10 L268.00,135.20 L269.00,135.29 L270.00,135.38 L271.00,135.47 L272.00,135.56 L273.00,135.66 L274.00,135.75 L275.00,135.84 L276.00,135.93 L277.00,136.02 L278.00,136.12 L279.00,136.21 L280.00,136.30 L281.00,136.40 L282.00,136.49 L283.00,136.58 L284.00,136.68 L285.00,136.77 L286.00,136.87 L287.00,136.96 L288.00,137.05 L289.00,137.15 L290.00,137.24 L291.00,137.34 L292.00,137.44 L293.00,137.54 L294.00,137.64 L295.00,137.75 L296.00,137.85 L297.00,137.96 L298.00,138.07 L299.00,138.18 L300.00,138.30 L301.00,138.41 L302.00,138.52 L303.00,138.63 L304.00,138.75 L305.00,138.86 L306.00,138.97 L307.00,139.08 L308.00,139.20 L309.00,139.31 L310.00,139.43 L311.00,139.55 L312.00,139.67 L313.00,139.79 L314.00,139.92 L315.00,140.05 L316.00,140.19 L317.00,140.32 L318.00,140.46 L319.00,140.60 L320.00,140.74 L321.00,140.88 L322.00,141.01 L323.00,141.15 L324.00,141.29 L325.00,141.43 L326.00,141.57 L327.00,141.71 L328.00,141.86 L329.00,142.01 L330.00,142.17 L331.00,142.34 L332.00,142.52 L333.00,142.70 L334.00,142.90 L335.00,143.10 L336.00,143.31 L337.00,143.52 L338.00,143.73 L339.00,143.94 L340.00,144.14 L341.00,144.34 L342.00,144.52 L343.00,144.68 L344.00,144.82 L345.00,144.93 L346.00,145.02 L347.00,145.09 L348.00,145.14 L349.00,145.17 L350.00,145.20 L351.00,145.23 L352.00,145.25 L353.00,145.27 L354.00,145.29 L355.00,145.31 L356.00,145.33 L357.00,145.35 L358.00,145.37 L359.00,145.39 L360.00,145.41 L361.00,145.43 L362.00,145.45 L363.00,145.46 L364.00,145.48 L365.00,145.50 L366.00,145.52 L367.00,145.54 L368.00,145.56 L369.00,145.58 L370.00,145.60 L371.00,145.62 L372.00,145.64 L373.00,145.66 L374.00,145.69 L375.00,145.71 L376.00,145.73 L377.00,145.76 L378.00,145.79 L379.00,145.81 L380.00,145.84 L381.00,145.87 L382.00,145.89 L383.00,145.92 L384.00,145.95 L385.00,145.98 L386.00,146.00 L387.00,146.03 L388.00,146.06 L389.00,146.09 L390.00,146.12 L391.00,146.14 L392.00,146.17 L393.00,146.20 L394.00,146.23 L395.00,146.25 L396.00,146.28 L397.00,146.31 L398.00,146.34 L399.00,146.36 L400.00,146.39 L401.00,146.42 L402.00,146.45 L403.00,146.48 L404.00,146.51 L405.00,146.54 L406.00,146.58 L407.00,146.62 L408.00,146.67 L409.00,146.72 L410.00,146.77 L411.00,146.83 L412.00,146.89 L413.00,146.95 L414.00,147.02 L415.00,147.08 L416.00,147.14 L417.00,147.21 L418.00,147.27 L419.00,147.34 L420.00,147.40 L421.00,147.46 L422.00,147.53 L423.00,147.59 L424.00,147.66 L425.00,147.72 L426.00,147.78 L427.00,147.85 L428.00,147.91 L429.00,147.98 L430.00,148.04 L431.00,148.10 L432.00,148.17 L433.00,148.23 L434.00,148.30 L435.00,148.36 L436.00,148.42 L437.00,148.49 L438.00,148.55 L439.00,148.62 L440.00,148.68 L441.00,148.75 L442.00,148.81 L443.00,148.88 L444.00,148.96 L445.00,149.03 L446.00,149.11 L447.00,149.20 L448.00,149.28 L449.00,149.37 L450.00,149.46 L451.00,149.55 L452.00,149.64 L453.00,149.74 L454.00,149.83 L455.00,149.92 L456.00,150.01 L457.00,150.10 L458.00,150.20 L459.00,150.29 L460.00,150.38 L461.00,150.47 L462.00,150.56 L463.00,150.66 L464.00,150.75 L465.00,150.84 L466.00,150.92 L467.00,151.01 L468.00,151.09 L469.00,151.16 L470.00,151.22 L471.00,151.28 L472.00,151.33 L473.00,151.37 L474.00,151.40 L475.00,151.43 L476.00,151.46 L477.00,151.49 L478.00,151.52 L479.00,151.55 L480.00,151.57 L481.00,151.60 L482.00,151.63 L483.00,151.66 L484.00,151.68 L485.00,151.71 L486.00,151.74 L487.00,151.77 L488.00,151.79 L489.00,151.82 L490.00,151.85 L491.00,151.87 L492.00,151.90 L493.00,151.93 L494.00,151.96 L495.00,151.98 L496.00,152.01 L497.00,152.04 L498.00,152.07 L499.00,152.09 L500.00,152.12 L501.00,152.15 L502.00,152.17 L502.90,152.20" fill="none" stroke="#1560dc" stroke-width="2.2"/>
<path d="M84.00,288.30 L85.00,288.34 L86.00,288.38 L87.00,288.43 L88.00,288.47 L89.00,288.51 L90.00,288.55 L91.00,288.59 L92.00,288.64 L93.00,288.68 L94.00,288.72 L95.00,288.77 L96.00,288.81 L97.00,288.87 L98.00,288.93 L99.00,289.00 L100.00,289.09 L101.00,289.20 L102.00,289.33 L103.00,289.47 L104.00,289.63 L105.00,289.80 L106.00,289.98 L107.00,290.16 L108.00,290.34 L109.00,290.54 L110.00,290.74 L111.00,290.96 L112.00,291.20 L113.00,291.47 L114.00,291.76 L115.00,292.08 L116.00,292.42 L117.00,292.79 L118.00,293.16 L119.00,293.55 L120.00,293.96 L121.00,294.37 L122.00,294.80 L123.00,295.25 L124.00,295.73 L125.00,296.25 L126.00,296.80 L127.00,297.38 L128.00,298.02 L129.00,298.70 L130.00,299.44 L131.00,300.23 L132.00,301.07 L133.00,301.94 L134.00,302.85 L135.00,303.78 L136.00,304.72 L137.00,305.68 L138.00,306.64 L139.00,307.61 L140.00,308.59 L141.00,309.58 L142.00,310.58 L143.00,311.59 L144.00,312.61 L145.00,313.62 L146.00,314.65 L147.00,315.67 L148.00,316.70 L149.00,317.72 L150.00,318.75 L151.00,319.77 L152.00,320.80 L153.00,321.82 L154.00,322.84 L155.00,323.86 L156.00,324.87 L157.00,325.87 L158.00,326.85 L159.00,327.81 L160.00,328.73 L161.00,329.63 L162.00,330.50 L163.00,331.35 L164.00,332.17 L165.00,332.99 L166.00,333.79 L167.00,334.60 L168.00,335.40 L169.00,336.20 L170.00,337.00 L171.00,337.80 L172.00,338.60 L173.00,339.40 L174.00,340.19 L175.00,340.98 L176.00,341.75 L177.00,342.50 L178.00,343.22 L179.00,343.90 L180.00,344.52 L181.00,345.09 L182.00,345.61 L183.00,346.09 L184.00,346.53 L185.00,346.95 L186.00,347.36 L187.00,347.76 L188.00,348.15 L189.00,348.53 L190.00,348.89 L191.00,349.23 L192.00,349.55 L193.00,349.84 L194.00,350.09 L195.00,350.32 L196.00,350.51 L197.00,350.69 L198.00,350.86 L199.00,351.02 L200.00,351.18 L201.00,351.33 L202.00,351.48 L203.00,351.63 L204.00,351.78 L205.00,351.94 L206.00,352.09 L207.00,352.24 L208.00,352.39 L209.00,352.54 L210.00,352.69 L211.00,352.85 L212.00,353.00 L213.00,353.15 L214.00,353.30 L215.00,353.45 L216.00,353.60 L217.00,353.75 L218.00,353.91 L219.00,354.06 L220.00,354.20 L221.00,354.35 L222.00,354.50 L223.00,354.65 L224.00,354.80 L225.00,354.95 L226.00,355.09 L227.00,355.24 L228.00,355.39 L229.00,355.54 L230.00,355.69 L231.00,355.83 L232.00,355.98 L233.00,356.13 L234.00,356.28 L235.00,356.42 L236.00,356.57 L237.00,356.72 L238.00,356.87 L239.00,357.01 L240.00,357.16 L241.00,357.30 L242.00,357.45 L243.00,357.58 L244.00,357.72 L245.00,357.84 L246.00,357.97 L247.00,358.09 L248.00,358.20 L249.00,358.32 L250.00,358.43 L251.00,358.54 L252.00,358.65 L253.00,358.76 L254.00,358.87 L255.00,358.99 L256.00,359.10 L257.00,359.21 L258.00,359.32 L259.00,359.43 L260.00,359.54 L261.00,359.65 L262.00,359.76 L263.00,359.87 L264.00,359.98 L265.00,360.09 L266.00,360.20 L267.00,360.31 L268.00,360.43 L269.00,360.54 L270.00,360.65 L271.00,360.77 L272.00,360.88 L273.00,361.01 L274.00,361.14 L275.00,361.28 L276.00,361.43 L277.00,361.59 L278.00,361.75 L279.00,361.92 L280.00,362.10 L281.00,362.27 L282.00,362.45 L283.00,362.63 L284.00,362.81 L285.00,362.98 L286.00,363.16 L287.00,363.34 L288.00,363.52 L289.00,363.70 L290.00,363.88 L291.00,364.05 L292.00,364.23 L293.00,364.41 L294.00,364.59 L295.00,364.77 L296.00,364.96 L297.00,365.15 L298.00,365.34 L299.00,365.54 L300.00,365.75 L301.00,365.96 L302.00,366.18 L303.00,366.40 L304.00,366.63 L305.00,366.86 L306.00,367.09 L307.00,367.32 L308.00,367.55 L309.00,367.78 L310.00,368.01 L311.00,368.24 L312.00,368.47 L313.00,368.70 L314.00,368.93 L315.00,369.16 L316.00,369.39 L317.00,369.62 L318.00,369.85 L319.00,370.08 L320.00,370.31 L321.00,370.54 L322.00,370.77 L323.00,371.01 L324.00,371.24 L325.00,371.48 L326.00,371.72 L327.00,371.97 L328.00,372.22 L329.00,372.48 L330.00,372.75 L331.00,373.01 L332.00,373.27 L333.00,373.51 L334.00,373.72 L335.00,373.91 L336.00,374.06 L337.00,374.19 L338.00,374.28 L339.00,374.36 L340.00,374.42 L341.00,374.48 L342.00,374.53 L343.00,374.58 L344.00,374.63 L345.00,374.67 L346.00,374.72 L347.00,374.77 L348.00,374.81 L349.00,374.86 L350.00,374.91 L351.00,374.96 L352.00,375.00 L353.00,375.05 L354.00,375.10 L355.00,375.15 L356.00,375.19 L357.00,375.24 L358.00,375.29 L359.00,375.34 L360.00,375.38 L361.00,375.43 L362.00,375.48 L363.00,375.53 L364.00,375.58 L365.00,375.63 L366.00,375.69 L367.00,375.74 L368.00,375.79 L369.00,375.84 L370.00,375.89 L371.00,375.94 L372.00,375.99 L373.00,376.04 L374.00,376.09 L375.00,376.14 L376.00,376.20 L377.00,376.25 L378.00,376.30 L379.00,376.35 L380.00,376.40 L381.00,376.45 L382.00,376.51 L383.00,376.56 L384.00,376.63 L385.00,376.69 L386.00,376.77 L387.00,376.84 L388.00,376.93 L389.00,377.02 L390.00,377.11 L391.00,377.21 L392.00,377.31 L393.00,377.41 L394.00,377.51 L395.00,377.61 L396.00,377.70 L397.00,377.80 L398.00,377.90 L399.00,378.00 L400.00,378.11 L401.00,378.21 L402.00,378.32 L403.00,378.43 L404.00,378.56 L405.00,378.69 L406.00,378.83 L407.00,378.98 L408.00,379.14 L409.00,379.30 L410.00,379.47 L411.00,379.64 L412.00,379.81 L413.00,379.99 L414.00,380.16 L415.00,380.33 L416.00,380.50 L417.00,380.68 L418.00,380.85 L419.00,381.01 L420.00,381.18 L421.00,381.34 L422.00,381.50 L423.00,381.66 L424.00,381.82 L425.00,381.99 L426.00,382.15 L427.00,382.32 L428.00,382.51 L429.00,382.72 L430.00,382.96 L431.00,383.22 L432.00,383.52 L433.00,383.85 L434.00,384.21 L435.00,384.59 L436.00,384.98 L437.00,385.38 L438.00,385.80 L439.00,386.22 L440.00,386.67 L441.00,387.14 L442.00,387.63 L443.00,388.15 L444.00,388.69 L445.00,389.25 L446.00,389.83 L447.00,390.41 L448.00,391.00 L449.00,391.60 L450.00,392.19 L451.00,392.79 L452.00,393.39 L453.00,393.99 L454.00,394.59 L455.00,395.20 L456.00,395.80 L457.00,396.40 L458.00,397.00 L459.00,397.60 L460.00,398.19 L461.00,398.77 L462.00,399.34 L463.00,399.88 L464.00,400.41 L465.00,400.91 L466.00,401.40 L467.00,401.86 L468.00,402.32 L469.00,402.76 L470.00,403.19 L471.00,403.61 L472.00,404.01 L473.00,404.39 L474.00,404.74 L475.00,405.05 L476.00,405.34 L477.00,405.59 L478.00,405.82 L479.00,406.03 L480.00,406.23 L481.00,406.42 L482.00,406.61 L483.00,406.77 L484.00,406.93 L485.00,407.07 L486.00,407.19 L487.00,407.29 L488.00,407.38 L489.00,407.45 L490.00,407.51 L491.00,407.57 L492.00,407.63 L493.00,407.68 L494.00,407.73 L495.00,407.78 L496.00,407.83 L497.00,407.88 L498.00,407.93 L499.00,407.98 L500.00,408.03 L501.00,408.08 L502.00,408.13 L503.00,408.18 L504.00,408.22 L505.00,408.26 L506.00,408.30 L507.00,408.33 L508.00,408.36 L509.00,408.37 L510.00,408.38 L511.00,408.39 L512.00,408.40 L513.00,408.40 L514.00,408.40 L515.00,408.40 L516.00,408.40 L517.00,408.40 L518.00,408.40 L519.00,408.40 L520.00,408.40 L521.00,408.40 L522.00,408.40 L523.00,408.40 L524.00,408.40 L525.00,408.40 L526.00,408.40 L527.00,408.40 L528.00,408.40 L528.70,408.40" fill="none" stroke="#1560dc" stroke-width="2.2"/>
<path d="M85.00,85.35 L86.50,88.37 L88.00,88.34 L89.50,85.52 L91.00,85.97 L92.50,85.62 L94.00,86.38 L95.50,87.02 L97.00,83.37 L98.50,82.08 L100.00,85.71 L101.50,84.12 L103.00,85.21 L104.50,81.18 L106.00,82.20 L107.50,83.30 L109.00,80.44 L110.50,82.89 L112.00,82.41 L113.50,76.97 L115.00,74.90 L116.50,76.08 L118.00,77.21 L119.50,73.23 L121.00,70.14 L122.50,69.02 L124.00,65.19 L125.50,63.77 L127.00,62.92 L128.50,61.50 L130.00,58.55 L131.50,56.95 L133.00,55.78 L134.50,56.24 L136.00,55.15 L137.50,53.51 L139.00,57.38 L140.50,56.82 L142.00,57.30 L143.50,55.28 L145.00,59.24 L146.50,59.48 L148.00,55.68 L149.50,55.71 L151.00,57.33 L152.50,57.22 L154.00,58.07 L155.50,55.49 L157.00,57.12 L158.50,57.04 L160.00,56.01 L161.50,58.87 L163.00,63.09 L164.50,66.51 L166.00,68.55 L167.50,72.82 L169.00,74.42 L170.50,79.54 L172.00,87.09 L173.50,89.96 L175.00,92.15 L176.50,96.77 L178.00,100.46 L179.50,102.74 L181.00,103.19 L182.50,105.01 L184.00,107.08 L185.50,110.10 L187.00,110.48 L188.50,110.87 L190.00,112.37 L191.50,111.17 L193.00,111.77 L194.50,115.90 L196.00,118.71 L197.50,117.78 L199.00,117.07 L200.50,116.24 L202.00,118.19 L203.50,121.35 L205.00,121.17 L206.50,120.18 L208.00,121.83 L209.50,119.11 L211.00,120.13 L212.50,122.67 L214.00,121.34 L215.50,120.54 L217.00,119.48 L218.50,120.77 L220.00,123.19 L221.50,118.85 L223.00,121.99 L224.50,122.80 L226.00,123.28 L227.50,122.60 L229.00,122.80 L230.50,121.33 L232.00,121.23 L233.50,120.50 L235.00,118.43 L236.50,122.16 L238.00,121.35 L239.50,119.26 L241.00,120.37 L242.50,120.45 L244.00,119.77 L245.50,119.54 L247.00,120.45 L248.50,121.06 L250.00,121.16 L251.50,120.58 L253.00,118.57 L254.50,119.61 L256.00,119.99 L257.50,122.60 L259.00,124.98 L260.50,125.57 L262.00,126.10 L263.50,126.71 L265.00,124.37 L266.50,127.31 L268.00,127.44 L269.50,124.85 L271.00,124.39 L272.50,124.69 L274.00,128.91 L275.50,127.50 L277.00,126.78 L278.50,129.48 L280.00,128.70 L281.50,127.12 L283.00,127.19 L284.50,128.97 L286.00,127.38 L287.50,127.48 L289.00,129.63 L290.50,128.64 L292.00,127.66 L293.50,128.15 L295.00,125.88 L296.50,127.24 L298.00,127.64 L299.50,126.50 L301.00,125.82 L302.50,129.70 L304.00,128.44 L305.50,126.61 L307.00,128.23 L308.50,129.61 L310.00,125.78 L311.50,125.00 L313.00,125.55 L314.50,128.68 L316.00,126.56 L317.50,129.04 L319.00,129.50 L320.50,128.94 L322.00,127.16 L323.50,130.63 L325.00,130.37 L326.50,128.83 L328.00,126.97 L329.50,128.74 L331.00,127.78 L332.50,128.58 L334.00,127.59 L335.50,129.24 L337.00,126.96 L338.50,128.21 L340.00,132.54 L341.50,133.85 L343.00,132.28 L344.50,136.07 L346.00,135.36 L347.50,139.73 L349.00,140.70 L350.50,140.06 L352.00,139.75 L353.50,138.90 L355.00,143.54 L356.50,140.43 L358.00,144.06 L359.50,145.75 L361.00,144.24 L362.50,141.97 L364.00,145.09 L365.50,146.23 L367.00,145.02 L368.50,143.68 L370.00,142.59 L371.50,142.00 L373.00,140.92 L374.50,142.86 L376.00,141.78 L377.50,140.10 L379.00,139.09 L380.50,141.57 L382.00,140.00 L383.50,140.57 L385.00,139.62 L386.50,142.05 L388.00,142.50 L389.50,137.89 L391.00,137.73 L392.50,138.17 L394.00,141.46 L395.50,140.92 L397.00,138.40 L398.50,137.13 L400.00,139.11 L401.50,140.23 L403.00,140.81 L404.50,137.80 L406.00,139.84 L407.50,139.16 L409.00,137.94 L410.50,140.24 L412.00,136.85 L413.50,138.68 L415.00,135.77 L416.50,135.62 L418.00,139.39 L419.50,136.59 L421.00,138.86 L422.50,138.58 L424.00,139.84 L425.50,137.75 L427.00,137.26 L428.50,136.88 L430.00,139.56 L431.50,138.29 L433.00,139.26 L434.50,138.48 L436.00,133.86 L437.50,134.50 L439.00,131.82 L440.50,130.46 L442.00,129.89 L443.50,133.42 L445.00,133.37 L446.50,133.31 L448.00,130.61 L449.50,131.41 L451.00,132.52 L452.50,130.97 L454.00,132.03 L455.50,130.95 L457.00,130.58 L458.50,132.11 L460.00,136.31 L461.50,136.21 L463.00,138.78 L464.50,137.70 L466.00,137.40 L467.50,140.83 L469.00,142.65 L470.50,139.79 L472.00,143.45 L473.50,141.79 L475.00,141.89 L476.50,145.90 L478.00,142.39 L479.50,142.81 L481.00,147.00 L482.50,145.49 L484.00,144.36 L485.50,145.31 L487.00,146.80 L488.50,150.96 L490.00,149.50 L491.50,154.37 L493.00,153.47 L494.50,156.84 L496.00,157.79 L497.50,155.42 L499.00,155.26 L500.50,156.80 L502.00,155.63" fill="none" stroke="#333333" stroke-width="1.6"/>
<path d="M84.50,290.31 L86.00,290.78 L87.50,284.19 L89.00,282.96 L90.50,288.08 L92.00,288.13 L93.50,287.29 L95.00,284.03 L96.50,285.07 L98.00,284.78 L99.50,283.95 L101.00,279.99 L102.50,280.40 L104.00,279.32 L105.50,279.28 L107.00,277.65 L108.50,273.69 L110.00,271.29 L111.50,270.51 L113.00,269.50 L114.50,265.98 L116.00,259.93 L117.50,258.23 L119.00,255.93 L120.50,250.59 L122.00,245.82 L123.50,241.25 L125.00,238.48 L126.50,233.43 L128.00,228.75 L129.50,227.92 L131.00,222.58 L132.50,223.06 L134.00,226.66 L135.50,227.04 L137.00,226.67 L138.50,233.06 L140.00,234.36 L141.50,235.06 L143.00,234.75 L144.50,232.42 L146.00,232.49 L147.50,232.39 L149.00,237.83 L150.50,237.12 L152.00,229.43 L153.50,230.72 L155.00,231.89 L156.50,231.59 L158.00,234.02 L159.50,236.92 L161.00,243.23 L162.50,243.91 L164.00,257.82 L165.50,258.44 L167.00,267.05 L168.50,278.51 L170.00,279.38 L171.50,281.35 L173.00,285.41 L174.50,284.86 L176.00,283.54 L177.50,283.30 L179.00,285.69 L180.50,293.68 L182.00,301.38 L183.50,309.93 L185.00,309.74 L186.50,317.12 L188.00,316.76 L189.50,323.92 L191.00,325.88 L192.50,327.01 L194.00,329.36 L195.50,332.59 L197.00,334.39 L198.50,334.14 L200.00,334.55 L201.50,337.82 L203.00,342.44 L204.50,341.83 L206.00,338.36 L207.50,343.62 L209.00,344.27 L210.50,345.85 L212.00,340.98 L213.50,344.14 L215.00,339.79 L216.50,343.35 L218.00,341.28 L219.50,340.45 L221.00,344.90 L222.50,339.91 L224.00,341.74 L225.50,344.31 L227.00,340.10 L228.50,338.78 L230.00,343.22 L231.50,340.55 L233.00,342.02 L234.50,337.12 L236.00,338.44 L237.50,337.17 L239.00,340.46 L240.50,336.65 L242.00,342.16 L243.50,336.29 L245.00,340.18 L246.50,335.69 L248.00,336.62 L249.50,341.39 L251.00,338.28 L252.50,338.86 L254.00,343.75 L255.50,343.51 L257.00,341.94 L258.50,349.58 L260.00,345.90 L261.50,345.26 L263.00,348.30 L264.50,351.62 L266.00,353.71 L267.50,349.68 L269.00,350.58 L270.50,348.50 L272.00,351.13 L273.50,353.89 L275.00,354.06 L276.50,354.96 L278.00,353.67 L279.50,353.72 L281.00,352.05 L282.50,349.45 L284.00,346.61 L285.50,348.90 L287.00,346.57 L288.50,344.34 L290.00,346.25 L291.50,349.60 L293.00,344.59 L294.50,346.78 L296.00,345.63 L297.50,346.20 L299.00,343.58 L300.50,349.22 L302.00,345.44 L303.50,347.54 L305.00,346.88 L306.50,344.09 L308.00,347.81 L309.50,345.77 L311.00,345.00 L312.50,344.84 L314.00,345.76 L315.50,345.29 L317.00,348.90 L318.50,348.40 L320.00,351.50 L321.50,351.47 L323.00,351.69 L324.50,346.08 L326.00,346.70 L327.50,345.87 L329.00,348.84 L330.50,350.51 L332.00,353.19 L333.50,354.43 L335.00,352.97 L336.50,355.83 L338.00,359.23 L339.50,358.11 L341.00,360.01 L342.50,364.75 L344.00,364.94 L345.50,370.73 L347.00,369.41 L348.50,368.85 L350.00,369.88 L351.50,370.80 L353.00,371.17 L354.50,373.65 L356.00,373.81 L357.50,372.72 L359.00,374.95 L360.50,372.23 L362.00,376.80 L363.50,378.12 L365.00,376.63 L366.50,374.07 L368.00,373.97 L369.50,374.24 L371.00,370.12 L372.50,371.64 L374.00,372.29 L375.50,369.33 L377.00,367.51 L378.50,371.79 L380.00,368.90 L381.50,368.95 L383.00,371.45 L384.50,369.24 L386.00,366.06 L387.50,370.23 L389.00,366.30 L390.50,362.66 L392.00,366.57 L393.50,362.77 L395.00,363.23 L396.50,366.95 L398.00,366.16 L399.50,360.86 L401.00,362.71 L402.50,362.49 L404.00,362.73 L405.50,360.52 L407.00,362.72 L408.50,359.30 L410.00,360.22 L411.50,361.27 L413.00,365.93 L414.50,360.89 L416.00,365.23 L417.50,362.28 L419.00,364.71 L420.50,363.86 L422.00,363.92 L423.50,365.43 L425.00,362.30 L426.50,358.61 L428.00,356.62 L429.50,354.44 L431.00,358.04 L432.50,355.37 L434.00,355.19 L435.50,351.17 L437.00,343.55 L438.50,345.03 L440.00,344.71 L441.50,342.97 L443.00,339.87 L444.50,337.45 L446.00,337.17 L447.50,339.52 L449.00,336.35 L450.50,338.34 L452.00,339.44 L453.50,344.75 L455.00,346.60 L456.50,350.08 L458.00,352.36 L459.50,351.27 L461.00,353.12 L462.50,358.13 L464.00,360.34 L465.50,364.92 L467.00,370.34 L468.50,375.29 L470.00,375.55 L471.50,378.65 L473.00,375.10 L474.50,377.18 L476.00,383.13 L477.50,378.92 L479.00,381.15 L480.50,380.43 L482.00,382.02 L483.50,389.95 L485.00,393.84 L486.50,393.64 L488.00,391.24 L489.50,393.40 L491.00,394.68 L492.50,399.33 L494.00,401.38 L495.50,400.95 L497.00,402.35 L498.50,400.32 L500.00,403.67 L501.50,407.83 L503.00,407.66 L504.50,403.09 L506.00,405.50 L507.50,407.60 L509.00,404.77 L510.50,409.02 L512.00,406.80 L513.50,408.25 L515.00,406.46 L516.50,410.54 L518.00,409.86 L519.50,408.23 L521.00,404.77 L522.50,406.28 L524.00,403.57 L525.50,407.21 L527.00,410.07 L528.50,405.50" fill="none" stroke="#333333" stroke-width="1.6"/>
<path d="M84.00,87.40 L85.00,87.23 L86.00,87.05 L87.00,86.88 L88.00,86.70 L89.00,86.53 L90.00,86.36 L91.00,86.18 L92.00,86.01 L93.00,85.83 L94.00,85.66 L95.00,85.48 L96.00,85.31 L97.00,85.13 L98.00,84.94 L99.00,84.75 L100.00,84.55 L101.00,84.34 L102.00,84.13 L103.00,83.89 L104.00,83.62 L105.00,83.30 L106.00,82.94 L107.00,82.53 L108.00,82.10 L109.00,81.63 L110.00,81.13 L111.00,80.57 L112.00,79.95 L113.00,79.26 L114.00,78.51 L115.00,77.71 L116.00,76.88 L117.00,75.99 L118.00,75.03 L119.00,73.98 L120.00,72.84 L121.00,71.62 L122.00,70.36 L123.00,69.07 L124.00,67.75 L125.00,66.39 L126.00,65.01 L127.00,63.63 L128.00,62.28 L129.00,61.04 L130.00,59.94 L131.00,59.01 L132.00,58.22 L133.00,57.55 L134.00,57.00 L135.00,56.60 L136.00,56.34 L137.00,56.21 L138.00,56.17 L139.00,56.19 L140.00,56.25 L141.00,56.34 L142.00,56.46 L143.00,56.63 L144.00,56.82 L145.00,57.01 L146.00,57.16 L147.00,57.22 L148.00,57.16 L149.00,56.99 L150.00,56.73 L151.00,56.43 L152.00,56.11 L153.00,55.82 L154.00,55.58 L155.00,55.43 L156.00,55.36 L157.00,55.41 L158.00,55.61 L159.00,56.04 L160.00,56.78 L161.00,57.86 L162.00,59.29 L163.00,61.07 L164.00,63.16 L165.00,65.51 L166.00,68.09 L167.00,70.83 L168.00,73.71 L169.00,76.69 L170.00,79.76 L171.00,82.86 L172.00,85.92 L173.00,88.83 L174.00,91.50 L175.00,93.87 L176.00,95.94 L177.00,97.78 L178.00,99.44 L179.00,100.95 L180.00,102.33 L181.00,103.61 L182.00,104.82 L183.00,105.99 L184.00,107.11 L185.00,108.18 L186.00,109.17 L187.00,110.09 L188.00,110.94 L189.00,111.74 L190.00,112.51 L191.00,113.26 L192.00,113.96 L193.00,114.60 L194.00,115.17 L195.00,115.68 L196.00,116.14 L197.00,116.58 L198.00,117.00 L199.00,117.41 L200.00,117.81 L201.00,118.19 L202.00,118.53 L203.00,118.82 L204.00,119.08 L205.00,119.31 L206.00,119.51 L207.00,119.70 L208.00,119.87 L209.00,120.03 L210.00,120.16 L211.00,120.26 L212.00,120.34 L213.00,120.42 L214.00,120.48 L215.00,120.55 L216.00,120.61 L217.00,120.67 L218.00,120.73 L219.00,120.79 L220.00,120.85 L221.00,120.90 L222.00,120.93 L223.00,120.95 L224.00,120.95 L225.00,120.94 L226.00,120.93 L227.00,120.91 L228.00,120.89 L229.00,120.88 L230.00,120.86 L231.00,120.84 L232.00,120.82 L233.00,120.80 L234.00,120.78 L235.00,120.77 L236.00,120.75 L237.00,120.73 L238.00,120.70 L239.00,120.68 L240.00,120.65 L241.00,120.62 L242.00,120.59 L243.00,120.56 L244.00,120.53 L245.00,120.50 L246.00,120.47 L247.00,120.44 L248.00,120.42 L249.00,120.42 L250.00,120.46 L251.00,120.56 L252.00,120.74 L253.00,121.00 L254.00,121.31 L255.00,121.66 L256.00,122.02 L257.00,122.39 L258.00,122.76 L259.00,123.13 L260.00,123.49 L261.00,123.85 L262.00,124.20 L263.00,124.54 L264.00,124.88 L265.00,125.22 L266.00,125.56 L267.00,125.90 L268.00,126.23 L269.00,126.57 L270.00,126.91 L271.00,127.25 L272.00,127.58 L273.00,127.91 L274.00,128.22 L275.00,128.51 L276.00,128.77 L277.00,129.00 L278.00,129.20 L279.00,129.36 L280.00,129.45 L281.00,129.49 L282.00,129.46 L283.00,129.40 L284.00,129.32 L285.00,129.23 L286.00,129.13 L287.00,129.04 L288.00,128.95 L289.00,128.85 L290.00,128.76 L291.00,128.67 L292.00,128.58 L293.00,128.50 L294.00,128.44 L295.00,128.38 L296.00,128.34 L297.00,128.30 L298.00,128.27 L299.00,128.23 L300.00,128.20 L301.00,128.17 L302.00,128.14 L303.00,128.10 L304.00,128.07 L305.00,128.04 L306.00,128.01 L307.00,127.98 L308.00,127.95 L309.00,127.92 L310.00,127.89 L311.00,127.89 L312.00,127.90 L313.00,127.93 L314.00,128.00 L315.00,128.08 L316.00,128.18 L317.00,128.27 L318.00,128.36 L319.00,128.44 L320.00,128.49 L321.00,128.51 L322.00,128.50 L323.00,128.48 L324.00,128.45 L325.00,128.41 L326.00,128.37 L327.00,128.33 L328.00,128.30 L329.00,128.26 L330.00,128.23 L331.00,128.22 L332.00,128.24 L333.00,128.31 L334.00,128.44 L335.00,128.62 L336.00,128.85 L337.00,129.12 L338.00,129.46 L339.00,129.89 L340.00,130.43 L341.00,131.11 L342.00,131.90 L343.00,132.81 L344.00,133.80 L345.00,134.87 L346.00,135.99 L347.00,137.09 L348.00,138.12 L349.00,139.03 L350.00,139.82 L351.00,140.48 L352.00,141.04 L353.00,141.49 L354.00,141.85 L355.00,142.15 L356.00,142.40 L357.00,142.63 L358.00,142.85 L359.00,143.05 L360.00,143.22 L361.00,143.36 L362.00,143.45 L363.00,143.50 L364.00,143.51 L365.00,143.50 L366.00,143.47 L367.00,143.43 L368.00,143.37 L369.00,143.27 L370.00,143.14 L371.00,142.99 L372.00,142.80 L373.00,142.61 L374.00,142.41 L375.00,142.21 L376.00,142.01 L377.00,141.81 L378.00,141.62 L379.00,141.44 L380.00,141.27 L381.00,141.11 L382.00,140.97 L383.00,140.83 L384.00,140.69 L385.00,140.55 L386.00,140.40 L387.00,140.26 L388.00,140.11 L389.00,139.96 L390.00,139.81 L391.00,139.66 L392.00,139.51 L393.00,139.36 L394.00,139.22 L395.00,139.09 L396.00,138.97 L397.00,138.85 L398.00,138.74 L399.00,138.64 L400.00,138.53 L401.00,138.43 L402.00,138.33 L403.00,138.23 L404.00,138.13 L405.00,138.03 L406.00,137.94 L407.00,137.86 L408.00,137.79 L409.00,137.75 L410.00,137.72 L411.00,137.71 L412.00,137.70 L413.00,137.70 L414.00,137.70 L415.00,137.70 L416.00,137.70 L417.00,137.70 L418.00,137.70 L419.00,137.71 L420.00,137.73 L421.00,137.76 L422.00,137.81 L423.00,137.87 L424.00,137.94 L425.00,138.01 L426.00,138.08 L427.00,138.14 L428.00,138.15 L429.00,138.09 L430.00,137.92 L431.00,137.63 L432.00,137.24 L433.00,136.77 L434.00,136.26 L435.00,135.74 L436.00,135.24 L437.00,134.75 L438.00,134.28 L439.00,133.85 L440.00,133.43 L441.00,133.02 L442.00,132.63 L443.00,132.26 L444.00,131.93 L445.00,131.63 L446.00,131.38 L447.00,131.18 L448.00,131.01 L449.00,130.91 L450.00,130.89 L451.00,130.98 L452.00,131.15 L453.00,131.41 L454.00,131.73 L455.00,132.10 L456.00,132.52 L457.00,132.99 L458.00,133.51 L459.00,134.07 L460.00,134.65 L461.00,135.24 L462.00,135.85 L463.00,136.47 L464.00,137.12 L465.00,137.79 L466.00,138.49 L467.00,139.20 L468.00,139.95 L469.00,140.72 L470.00,141.51 L471.00,142.29 L472.00,143.00 L473.00,143.58 L474.00,144.00 L475.00,144.26 L476.00,144.38 L477.00,144.43 L478.00,144.44 L479.00,144.49 L480.00,144.61 L481.00,144.85 L482.00,145.22 L483.00,145.71 L484.00,146.32 L485.00,147.03 L486.00,147.79 L487.00,148.54 L488.00,149.23 L489.00,149.81 L490.00,150.29 L491.00,150.66 L492.00,150.95 L493.00,151.17 L494.00,151.32 L495.00,151.44 L496.00,151.53 L497.00,151.60 L498.00,151.67 L499.00,151.74 L500.00,151.80 L501.00,151.87 L502.00,151.94 L502.90,152.00" fill="none" stroke="#ee2b30" stroke-width="2.1"/>
<path d="M84.00,287.00 L85.00,286.90 L86.00,286.81 L87.00,286.71 L88.00,286.62 L89.00,286.51 L90.00,286.39 L91.00,286.24 L92.00,286.04 L93.00,285.78 L94.00,285.47 L95.00,285.10 L96.00,284.71 L97.00,284.30 L98.00,283.88 L99.00,283.42 L100.00,282.92 L101.00,282.35 L102.00,281.72 L103.00,281.03 L104.00,280.30 L105.00,279.50 L106.00,278.62 L107.00,277.63 L108.00,276.49 L109.00,275.19 L110.00,273.75 L111.00,272.17 L112.00,270.45 L113.00,268.58 L114.00,266.57 L115.00,264.42 L116.00,262.15 L117.00,259.77 L118.00,257.30 L119.00,254.77 L120.00,252.23 L121.00,249.73 L122.00,247.30 L123.00,244.94 L124.00,242.69 L125.00,240.55 L126.00,238.55 L127.00,236.68 L128.00,234.96 L129.00,233.40 L130.00,232.04 L131.00,230.86 L132.00,229.85 L133.00,228.99 L134.00,228.27 L135.00,227.68 L136.00,227.23 L137.00,226.89 L138.00,226.66 L139.00,226.54 L140.00,226.54 L141.00,226.64 L142.00,226.82 L143.00,227.08 L144.00,227.38 L145.00,227.73 L146.00,228.13 L147.00,228.57 L148.00,229.06 L149.00,229.64 L150.00,230.33 L151.00,231.15 L152.00,232.08 L153.00,233.14 L154.00,234.34 L155.00,235.69 L156.00,237.20 L157.00,238.85 L158.00,240.62 L159.00,242.48 L160.00,244.44 L161.00,246.51 L162.00,248.67 L163.00,250.94 L164.00,253.33 L165.00,255.87 L166.00,258.55 L167.00,261.34 L168.00,264.19 L169.00,267.05 L170.00,269.87 L171.00,272.65 L172.00,275.39 L173.00,278.11 L174.00,280.84 L175.00,283.61 L176.00,286.44 L177.00,289.33 L178.00,292.26 L179.00,295.21 L180.00,298.12 L181.00,300.93 L182.00,303.62 L183.00,306.16 L184.00,308.59 L185.00,310.94 L186.00,313.22 L187.00,315.44 L188.00,317.60 L189.00,319.70 L190.00,321.74 L191.00,323.73 L192.00,325.64 L193.00,327.45 L194.00,329.14 L195.00,330.71 L196.00,332.16 L197.00,333.51 L198.00,334.78 L199.00,335.92 L200.00,336.94 L201.00,337.82 L202.00,338.60 L203.00,339.32 L204.00,339.99 L205.00,340.62 L206.00,341.18 L207.00,341.65 L208.00,342.00 L209.00,342.24 L210.00,342.40 L211.00,342.49 L212.00,342.57 L213.00,342.63 L214.00,342.69 L215.00,342.74 L216.00,342.80 L217.00,342.83 L218.00,342.84 L219.00,342.81 L220.00,342.73 L221.00,342.61 L222.00,342.44 L223.00,342.26 L224.00,342.07 L225.00,341.87 L226.00,341.67 L227.00,341.47 L228.00,341.28 L229.00,341.09 L230.00,340.90 L231.00,340.73 L232.00,340.58 L233.00,340.44 L234.00,340.31 L235.00,340.20 L236.00,340.08 L237.00,339.97 L238.00,339.85 L239.00,339.74 L240.00,339.63 L241.00,339.52 L242.00,339.40 L243.00,339.29 L244.00,339.18 L245.00,339.08 L246.00,339.00 L247.00,338.98 L248.00,339.08 L249.00,339.34 L250.00,339.81 L251.00,340.44 L252.00,341.20 L253.00,342.03 L254.00,342.89 L255.00,343.75 L256.00,344.60 L257.00,345.44 L258.00,346.27 L259.00,347.08 L260.00,347.88 L261.00,348.68 L262.00,349.47 L263.00,350.21 L264.00,350.88 L265.00,351.43 L266.00,351.83 L267.00,352.08 L268.00,352.22 L269.00,352.27 L270.00,352.29 L271.00,352.29 L272.00,352.27 L273.00,352.21 L274.00,352.11 L275.00,351.95 L276.00,351.72 L277.00,351.44 L278.00,351.11 L279.00,350.75 L280.00,350.34 L281.00,349.90 L282.00,349.44 L283.00,348.99 L284.00,348.59 L285.00,348.25 L286.00,347.98 L287.00,347.76 L288.00,347.59 L289.00,347.43 L290.00,347.27 L291.00,347.12 L292.00,346.97 L293.00,346.82 L294.00,346.67 L295.00,346.52 L296.00,346.39 L297.00,346.27 L298.00,346.21 L299.00,346.21 L300.00,346.29 L301.00,346.44 L302.00,346.65 L303.00,346.88 L304.00,347.12 L305.00,347.37 L306.00,347.61 L307.00,347.86 L308.00,348.11 L309.00,348.35 L310.00,348.59 L311.00,348.81 L312.00,348.98 L313.00,349.08 L314.00,349.09 L315.00,349.01 L316.00,348.85 L317.00,348.64 L318.00,348.40 L319.00,348.16 L320.00,347.92 L321.00,347.67 L322.00,347.45 L323.00,347.26 L324.00,347.16 L325.00,347.17 L326.00,347.33 L327.00,347.63 L328.00,348.04 L329.00,348.56 L330.00,349.17 L331.00,349.91 L332.00,350.78 L333.00,351.81 L334.00,353.00 L335.00,354.35 L336.00,355.86 L337.00,357.50 L338.00,359.20 L339.00,360.92 L340.00,362.59 L341.00,364.16 L342.00,365.60 L343.00,366.90 L344.00,368.10 L345.00,369.21 L346.00,370.22 L347.00,371.11 L348.00,371.85 L349.00,372.43 L350.00,372.88 L351.00,373.23 L352.00,373.52 L353.00,373.77 L354.00,373.95 L355.00,374.08 L356.00,374.15 L357.00,374.18 L358.00,374.19 L359.00,374.20 L360.00,374.20 L361.00,374.20 L362.00,374.20 L363.00,374.20 L364.00,374.19 L365.00,374.16 L366.00,374.11 L367.00,374.02 L368.00,373.89 L369.00,373.72 L370.00,373.53 L371.00,373.30 L372.00,373.04 L373.00,372.73 L374.00,372.35 L375.00,371.93 L376.00,371.46 L377.00,370.98 L378.00,370.49 L379.00,370.02 L380.00,369.57 L381.00,369.15 L382.00,368.74 L383.00,368.35 L384.00,367.98 L385.00,367.63 L386.00,367.32 L387.00,367.04 L388.00,366.80 L389.00,366.58 L390.00,366.36 L391.00,366.15 L392.00,365.93 L393.00,365.70 L394.00,365.46 L395.00,365.22 L396.00,364.97 L397.00,364.72 L398.00,364.46 L399.00,364.21 L400.00,363.96 L401.00,363.71 L402.00,363.46 L403.00,363.22 L404.00,363.00 L405.00,362.80 L406.00,362.64 L407.00,362.50 L408.00,362.41 L409.00,362.38 L410.00,362.42 L411.00,362.55 L412.00,362.75 L413.00,363.00 L414.00,363.28 L415.00,363.57 L416.00,363.86 L417.00,364.14 L418.00,364.39 L419.00,364.59 L420.00,364.67 L421.00,364.59 L422.00,364.34 L423.00,363.93 L424.00,363.38 L425.00,362.72 L426.00,361.93 L427.00,361.02 L428.00,359.97 L429.00,358.82 L430.00,357.57 L431.00,356.22 L432.00,354.75 L433.00,353.18 L434.00,351.53 L435.00,349.85 L436.00,348.19 L437.00,346.62 L438.00,345.15 L439.00,343.80 L440.00,342.55 L441.00,341.41 L442.00,340.37 L443.00,339.47 L444.00,338.72 L445.00,338.12 L446.00,337.68 L447.00,337.44 L448.00,337.42 L449.00,337.63 L450.00,338.07 L451.00,338.73 L452.00,339.62 L453.00,340.75 L454.00,342.13 L455.00,343.69 L456.00,345.41 L457.00,347.23 L458.00,349.13 L459.00,351.11 L460.00,353.14 L461.00,355.26 L462.00,357.48 L463.00,359.81 L464.00,362.22 L465.00,364.65 L466.00,367.01 L467.00,369.20 L468.00,371.14 L469.00,372.82 L470.00,374.25 L471.00,375.51 L472.00,376.60 L473.00,377.55 L474.00,378.37 L475.00,379.10 L476.00,379.77 L477.00,380.47 L478.00,381.24 L479.00,382.15 L480.00,383.22 L481.00,384.43 L482.00,385.74 L483.00,387.10 L484.00,388.46 L485.00,389.81 L486.00,391.11 L487.00,392.37 L488.00,393.60 L489.00,394.80 L490.00,395.95 L491.00,397.05 L492.00,398.07 L493.00,399.02 L494.00,399.89 L495.00,400.71 L496.00,401.49 L497.00,402.21 L498.00,402.86 L499.00,403.43 L500.00,403.93 L501.00,404.37 L502.00,404.77 L503.00,405.12 L504.00,405.43 L505.00,405.68 L506.00,405.87 L507.00,406.02 L508.00,406.15 L509.00,406.25 L510.00,406.36 L511.00,406.46 L512.00,406.56 L513.00,406.66 L514.00,406.76 L515.00,406.86 L516.00,406.94 L517.00,407.01 L518.00,407.07 L519.00,407.11 L520.00,407.14 L521.00,407.16 L522.00,407.18 L523.00,407.20 L524.00,407.22 L525.00,407.23 L526.00,407.25 L527.00,407.27 L528.00,407.28 L528.70,407.30" fill="none" stroke="#ee2b30" stroke-width="2.1"/>
<text x="96.6" y="12.4" font-size="14.8" stroke="#111" stroke-width="0.2" textLength="149.6" lengthAdjust="spacingAndGlyphs" fill="#111">(a) E<tspan font-size="10.8" dy="4.2">ap</tspan><tspan dy="-4.2"> = 0.0 V vs. SCE</tspan></text>
<text x="100.4" y="214.2" font-size="14.8" stroke="#111" stroke-width="0.2" textLength="150.8" lengthAdjust="spacingAndGlyphs" fill="#111">(b) E<tspan font-size="10.8" dy="4.2">ap</tspan><tspan dy="-4.2"> = 0.1 V vs. SCE</tspan></text>
<text transform="translate(16.3,184.4) rotate(-90)" font-size="18.6" fill="#111" stroke="#111" stroke-width="0.15" textLength="150" lengthAdjust="spacingAndGlyphs">Intensity / counts</text>
<text transform="translate(16.1,407.8) rotate(-90)" font-size="18.6" fill="#111" stroke="#111" stroke-width="0.15" textLength="150" lengthAdjust="spacingAndGlyphs">Intensity / counts</text>
<text x="215.5" y="501.3" font-size="16.8" fill="#111" stroke="#111" stroke-width="0.3" textLength="168" lengthAdjust="spacingAndGlyphs">Binding energy / eV</text>
<text x="73.6" y="197.3" font-size="23.4" text-anchor="end" fill="#111" stroke="#111" stroke-width="0.15">0</text>
<text x="73.6" y="124.3" font-size="23.4" text-anchor="end" fill="#111" stroke="#111" stroke-width="0.15">100</text>
<text x="73.6" y="51.3" font-size="23.4" text-anchor="end" fill="#111" stroke="#111" stroke-width="0.15">200</text>
<text x="73.6" y="453.4" font-size="23.4" text-anchor="end" fill="#111" stroke="#111" stroke-width="0.15">0</text>
<text x="73.6" y="380.3" font-size="23.4" text-anchor="end" fill="#111" stroke="#111" stroke-width="0.15">100</text>
<text x="73.6" y="307.4" font-size="23.4" text-anchor="end" fill="#111" stroke="#111" stroke-width="0.15">200</text>
<text x="73.6" y="234.5" font-size="23.4" text-anchor="end" fill="#111" stroke="#111" stroke-width="0.15">300</text>
<text x="110.30" y="475.2" font-size="21.8" text-anchor="middle" fill="#111" stroke="#111" stroke-width="0.25">70</text>
<text x="175.50" y="475.2" font-size="21.8" text-anchor="middle" fill="#111" stroke="#111" stroke-width="0.25">65</text>
<text x="240.70" y="475.2" font-size="21.8" text-anchor="middle" fill="#111" stroke="#111" stroke-width="0.25">60</text>
<text x="305.90" y="475.2" font-size="21.8" text-anchor="middle" fill="#111" stroke="#111" stroke-width="0.25">55</text>
<text x="371.10" y="475.2" font-size="21.8" text-anchor="middle" fill="#111" stroke="#111" stroke-width="0.25">50</text>
<text x="436.30" y="475.2" font-size="21.8" text-anchor="middle" fill="#111" stroke="#111" stroke-width="0.25">45</text>
<text x="501.50" y="475.2" font-size="21.8" text-anchor="middle" fill="#111" stroke="#111" stroke-width="0.25">40</text>
<text x="92.9" y="133.8" fill="#5b9bd5" stroke="#5b9bd5" stroke-width="0.25" font-size="13.2" textLength="47.6" lengthAdjust="spacingAndGlyphs">Ni 3p<tspan font-size="9.77" dy="3.4">1/2</tspan></text>
<text x="175.4" y="142.1" fill="#8c8c00" stroke="#8c8c00" stroke-width="0.25" font-size="13.2" textLength="47.4" lengthAdjust="spacingAndGlyphs">Ni 3p<tspan font-size="9.77" dy="3.4">3/2</tspan></text>
<text x="230.1" y="151.9" fill="#ee2b30" stroke="#ee2b30" stroke-width="0.25" font-size="13.2" textLength="45.2" lengthAdjust="spacingAndGlyphs">Co 3p<tspan font-size="9.77" dy="-4.8">ox</tspan></text>
<text x="223.2" y="182.6" fill="#7a4545" stroke="#7a4545" stroke-width="0.25" font-size="13.2" textLength="51.4" lengthAdjust="spacingAndGlyphs">Co 3p<tspan font-size="9.77" dy="-4.8">met</tspan></text>
<text x="290.9" y="153.7" fill="#6db524" stroke="#6db524" stroke-width="0.25" font-size="13.2" textLength="43.2" lengthAdjust="spacingAndGlyphs">Fe 3p<tspan font-size="9.77" dy="-4.8">ox</tspan></text>
<text x="307.4" y="184.1" fill="#1ec4cc" stroke="#1ec4cc" stroke-width="0.25" font-size="13.2" textLength="49.2" lengthAdjust="spacingAndGlyphs">Fe 3p<tspan font-size="9.77" dy="-4.8">met</tspan></text>
<text x="353.9" y="160.7" fill="#a56de0" stroke="#a56de0" stroke-width="0.25" font-size="13.2" textLength="56.7" lengthAdjust="spacingAndGlyphs">Mn 3p<tspan font-size="9.77" dy="-4.8">met</tspan></text>
<text x="433.1" y="117" fill="#f26000" stroke="#f26000" stroke-width="0.25" font-size="13.2" textLength="43.2" lengthAdjust="spacingAndGlyphs">Cr 3p<tspan font-size="9.77" dy="-4.8">ox</tspan></text>
<text x="478.4" y="133.1" fill="#c99a00" stroke="#c99a00" stroke-width="0.25" font-size="13.2" textLength="50.0" lengthAdjust="spacingAndGlyphs">Cr 3p<tspan font-size="9.77" dy="-4.8">met</tspan></text>
<text x="107.8" y="342.4" fill="#8c8c00" stroke="#8c8c00" stroke-width="0.25" font-size="13.2" textLength="46.7" lengthAdjust="spacingAndGlyphs">Ni 3p<tspan font-size="9.77" dy="3.4">3/2</tspan></text>
<text x="87.3" y="378.4" fill="#5b9bd5" stroke="#5b9bd5" stroke-width="0.25" font-size="13.2" textLength="46.7" lengthAdjust="spacingAndGlyphs">Ni 3p<tspan font-size="9.77" dy="3.4">1/2</tspan></text>
<text x="228.2" y="326.2" fill="#7a4545" stroke="#7a4545" stroke-width="0.25" font-size="13.2" textLength="51.4" lengthAdjust="spacingAndGlyphs">Co 3p<tspan font-size="9.77" dy="-4.8">met</tspan></text>
<text x="206.4" y="400.3" fill="#ee2b30" stroke="#ee2b30" stroke-width="0.25" font-size="13.2" textLength="46.2" lengthAdjust="spacingAndGlyphs">Co 3p<tspan font-size="9.77" dy="-4.8">ox</tspan></text>
<text x="309.1" y="332.9" fill="#1ec4cc" stroke="#1ec4cc" stroke-width="0.25" font-size="13.2" textLength="50.0" lengthAdjust="spacingAndGlyphs">Fe 3p<tspan font-size="9.77" dy="-4.8">met</tspan></text>
<text x="274.4" y="399" fill="#6db524" stroke="#6db524" stroke-width="0.25" font-size="13.2" textLength="44.4" lengthAdjust="spacingAndGlyphs">Fe 3p<tspan font-size="9.77" dy="-4.8">ox</tspan></text>
<rect x="351.1" y="387.4" width="68.8" height="26.9" fill="#fbf8c6"/>
<text x="360.1" y="406" fill="#404040" stroke="#404040" stroke-width="0.25" font-size="13.2" textLength="50.7" lengthAdjust="spacingAndGlyphs">Mn 3p<tspan font-size="9.77" dy="-4.8">ox</tspan></text>
<text x="371.4" y="348.8" fill="#a56de0" stroke="#a56de0" stroke-width="0.25" font-size="13.2" textLength="56.2" lengthAdjust="spacingAndGlyphs">Mn 3p<tspan font-size="9.77" dy="-4.8">met</tspan></text>
<text x="428.5" y="325.2" fill="#f26000" stroke="#f26000" stroke-width="0.25" font-size="13.2" textLength="43.2" lengthAdjust="spacingAndGlyphs">Cr 3p<tspan font-size="9.77" dy="-4.8">ox</tspan></text>
<text x="477.4" y="363.8" fill="#c99a00" stroke="#c99a00" stroke-width="0.25" font-size="13.2" textLength="49.3" lengthAdjust="spacingAndGlyphs">Cr 3p<tspan font-size="9.77" dy="-4.8">met</tspan></text>
</svg></body></html>
